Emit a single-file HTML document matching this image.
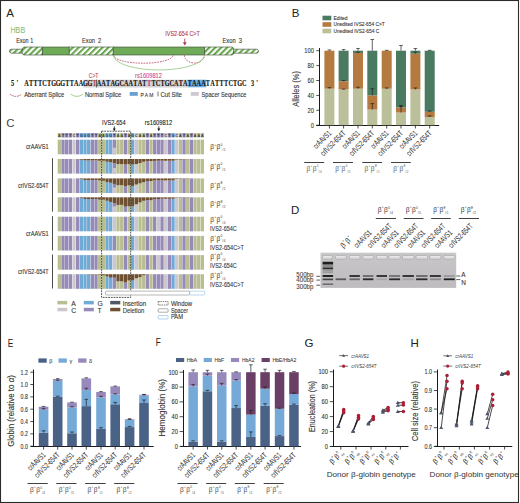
<!DOCTYPE html>
<html><head><meta charset="utf-8"><style>
html,body{margin:0;padding:0;background:#fff;}
body{width:520px;height:503px;overflow:hidden;}
svg{display:block;font-family:"Liberation Sans", sans-serif;}
</style></head><body>
<svg xmlns="http://www.w3.org/2000/svg" width="520" height="503" viewBox="0 0 520 503">
<rect x="0" y="0" width="520" height="503" fill="#fff"/>
<text x="6.3" y="16.7" font-size="11.5" fill="#222">A</text>
<text x="10.4" y="32.9" font-size="8.4" fill="#8cc07a" stroke="#8cc07a" stroke-width="0.1" textLength="14.8" lengthAdjust="spacingAndGlyphs">HBB</text>
<text x="16.2" y="42.9" font-size="6.6" fill="#333" stroke="#333" stroke-width="0.1" textLength="17" lengthAdjust="spacingAndGlyphs">Exon 1</text>
<text x="82" y="43" font-size="6.6" fill="#333" stroke="#333" stroke-width="0.1" textLength="19.3" lengthAdjust="spacingAndGlyphs">Exon&#160;&#160;2</text>
<text x="222.5" y="43.4" font-size="6.6" fill="#333" stroke="#333" stroke-width="0.1" textLength="19.6" lengthAdjust="spacingAndGlyphs">Exon&#160;&#160;3</text>
<text x="165.3" y="35.6" font-size="7" fill="#b0304a" stroke="#b0304a" stroke-width="0.1" textLength="34.5" lengthAdjust="spacingAndGlyphs">IVS2-654 C&gt;T</text>
<line x1="184.8" y1="38.6" x2="184.8" y2="43.5" stroke="#a83850" stroke-width="0.9"/>
<path d="M182.9,42.3 L184.8,45.4 L186.7,42.3 Z" stroke="none" stroke-width="1" fill="#a83850"/>
<defs><pattern id="hatch" patternUnits="userSpaceOnUse" width="4.2" height="4.2" patternTransform="rotate(45)"><rect x="0" y="0" width="4.2" height="4.2" fill="#fff"/><rect x="0" y="0" width="2.1" height="4.2" fill="#6aa84f"/></pattern></defs>
<path d="M11.5,49.2 L22.5,49.2 L22.5,53.2 L11.5,53.2 A2,2 0 0 1 11.5,49.2 Z" stroke="#3a4a34" stroke-width="0.6" fill="url(#hatch)"/>
<path d="M24,47 L42.4,47 L42.4,55 L24,55 A2,4 0 0 1 24,47 Z" stroke="#3a4a34" stroke-width="0.6" fill="url(#hatch)"/>
<rect x="42.4" y="47" width="26.8" height="8" fill="#6eaa58" stroke="#3a4a34" stroke-width="0.6"/>
<rect x="69.2" y="47" width="44" height="8" fill="url(#hatch)" stroke="#3a4a34" stroke-width="0.6"/>
<rect x="113.2" y="47" width="91.4" height="8" fill="#6eaa58" stroke="#3a4a34" stroke-width="0.6"/>
<path d="M204.6,47 L232,47 A2,4 0 0 1 232,55 L204.6,55 Z" stroke="#3a4a34" stroke-width="0.6" fill="url(#hatch)"/>
<path d="M233.5,49.2 L256.5,49.2 A2,2 0 0 1 256.5,53.2 L233.5,53.2 Z" stroke="#3a4a34" stroke-width="0.6" fill="url(#hatch)"/>
<path d="M113.6,55.2 A29.7,8 0 0 0 173.1,55.2" stroke="#b52e4c" stroke-width="0.75" fill="none" stroke-dasharray="1.7,1.0"/>
<path d="M184.4,55.2 A10,7.8 0 0 0 204.4,55.2" stroke="#b52e4c" stroke-width="0.75" fill="none" stroke-dasharray="1.7,1.0"/>
<path d="M113.6,55.2 A45.4,14.8 0 0 0 204.4,55.2" stroke="#8cc07a" stroke-width="0.75" fill="none"/>
<text x="88.7" y="78.4" font-size="6.8" fill="#b83a52" stroke="#b83a52" stroke-width="0.1" textLength="9.8" lengthAdjust="spacingAndGlyphs">C&gt;T</text>
<text x="135" y="78.4" font-size="6.8" fill="#cc4a90" stroke="#cc4a90" stroke-width="0.1" textLength="26.9" lengthAdjust="spacingAndGlyphs">rs1609812</text>
<rect x="83.18" y="79.7" width="104.35" height="7.8" fill="#d4d2d4"/>
<rect x="187.53" y="79.7" width="18.75" height="7.6" fill="#6aaee0"/>
<g transform="scale(0.82,1)">
<text x="13.54" y="86.2" font-size="7.6" font-weight="bold" fill="#111" stroke="#111" stroke-width="0.12" font-family='"Liberation Serif", serif'>5</text>
<text x="20" y="86.2" font-size="7.6" font-weight="bold" fill="#111" stroke="#111" stroke-width="0.12" font-family='"Liberation Serif", serif'>'</text>
<text x="306.1" y="86.2" font-size="7.6" font-weight="bold" fill="#111" stroke="#111" stroke-width="0.12" font-family='"Liberation Serif", serif'>3</text>
<text x="312.56" y="86.2" font-size="7.6" font-weight="bold" fill="#111" stroke="#111" stroke-width="0.12" font-family='"Liberation Serif", serif'>'</text>
<text y="86.2" font-size="7.6" font-weight="bold" font-family='"Liberation Serif", serif' text-anchor="middle" stroke="#111" stroke-width="0.12"><tspan x="32.28" fill="#111">A</tspan><tspan x="37.81" fill="#111">T</tspan><tspan x="43.34" fill="#111">T</tspan><tspan x="48.88" fill="#111">T</tspan><tspan x="54.41" fill="#111">C</tspan><tspan x="59.94" fill="#111">T</tspan><tspan x="65.48" fill="#111">G</tspan><tspan x="71.01" fill="#111">G</tspan><tspan x="76.54" fill="#111">G</tspan><tspan x="82.08" fill="#111">T</tspan><tspan x="87.61" fill="#111">T</tspan><tspan x="93.14" fill="#111">A</tspan><tspan x="98.67" fill="#111">A</tspan><tspan x="104.21" fill="#111">G</tspan><tspan x="109.74" fill="#111">G</tspan><tspan x="115.27" fill="#c2445e">T</tspan><tspan x="120.81" fill="#111">A</tspan><tspan x="126.34" fill="#111">A</tspan><tspan x="131.87" fill="#111">T</tspan><tspan x="137.4" fill="#111">A</tspan><tspan x="142.94" fill="#111">G</tspan><tspan x="148.47" fill="#111">C</tspan><tspan x="154" fill="#111">A</tspan><tspan x="159.54" fill="#111">A</tspan><tspan x="165.07" fill="#111">T</tspan><tspan x="170.6" fill="#111">A</tspan><tspan x="176.13" fill="#111">T</tspan><tspan x="181.67" fill="#d0458c">T</tspan><tspan x="187.2" fill="#111">T</tspan><tspan x="192.73" fill="#111">C</tspan><tspan x="198.27" fill="#111">T</tspan><tspan x="203.8" fill="#111">G</tspan><tspan x="209.33" fill="#111">C</tspan><tspan x="214.87" fill="#111">A</tspan><tspan x="220.4" fill="#111">T</tspan><tspan x="225.93" fill="#111">A</tspan><tspan x="231.46" fill="#111">T</tspan><tspan x="237" fill="#111">A</tspan><tspan x="242.53" fill="#111">A</tspan><tspan x="248.06" fill="#111">A</tspan><tspan x="253.6" fill="#111">T</tspan><tspan x="259.13" fill="#111">A</tspan><tspan x="264.66" fill="#111">T</tspan><tspan x="270.19" fill="#111">T</tspan><tspan x="275.73" fill="#111">T</tspan><tspan x="281.26" fill="#111">C</tspan><tspan x="286.79" fill="#111">T</tspan><tspan x="292.33" fill="#111">G</tspan><tspan x="297.86" fill="#111">C</tspan></text>
</g>
<line x1="96.49" y1="79.7" x2="96.49" y2="87.5" stroke="#333" stroke-width="0.7"/>
<path d="M10.2,94.2 Q15.8,98.6 21.5,94.2" stroke="#b52e4c" stroke-width="0.9" fill="none" stroke-dasharray="1.5,1"/>
<text x="24.2" y="96.5" font-size="6.6" fill="#333" stroke="#333" stroke-width="0.1" textLength="40.1" lengthAdjust="spacingAndGlyphs">Aberrant Splice</text>
<path d="M70.8,94.2 Q76.8,98.6 82.9,94.2" stroke="#8cc07a" stroke-width="0.8" fill="none"/>
<text x="84.9" y="96.5" font-size="6.6" fill="#333" stroke="#333" stroke-width="0.1" textLength="36.3" lengthAdjust="spacingAndGlyphs">Normal Splice</text>
<rect x="129.7" y="92" width="8.1" height="3.8" fill="#6a9fd3"/>
<text x="140.5" y="96.5" font-size="6.2" fill="#333" stroke="#333" stroke-width="0.1" textLength="12.9" lengthAdjust="spacingAndGlyphs">P A M</text>
<line x1="158" y1="91.6" x2="158" y2="96.4" stroke="#333" stroke-width="0.7"/>
<text x="160.4" y="96.5" font-size="6.6" fill="#333" stroke="#333" stroke-width="0.1" textLength="21.6" lengthAdjust="spacingAndGlyphs">Cut Site</text>
<rect x="190.8" y="92" width="8" height="3.8" fill="#cdc8cc"/>
<text x="201.5" y="96.5" font-size="6.6" fill="#333" stroke="#333" stroke-width="0.1" textLength="45" lengthAdjust="spacingAndGlyphs">Spacer Sequence</text>
<text x="291.8" y="16.7" font-size="11.5" fill="#222">B</text>
<rect x="322.5" y="15.7" width="8.8" height="4.6" fill="#4a7a60"/>
<text x="333.5" y="19.8" font-size="5" fill="#333" stroke="#333" stroke-width="0.1" textLength="14" lengthAdjust="spacingAndGlyphs">Edited</text>
<rect x="322.5" y="22.2" width="8.8" height="4.6" fill="#b47a40"/>
<text x="333.5" y="26.3" font-size="5" fill="#333" stroke="#333" stroke-width="0.1" textLength="51.2" lengthAdjust="spacingAndGlyphs">Unedited IVS2-654 C&gt;T</text>
<rect x="322.5" y="28.7" width="8.8" height="4.6" fill="#bcc09a"/>
<text x="333.5" y="32.8" font-size="5" fill="#333" stroke="#333" stroke-width="0.1" textLength="45.8" lengthAdjust="spacingAndGlyphs">Unedited IVS2-654 C</text>
<line x1="319.5" y1="48" x2="319.5" y2="126" stroke="#1a1a1a" stroke-width="1"/>
<line x1="316.2" y1="125.5" x2="439.2" y2="125.5" stroke="#1a1a1a" stroke-width="1"/>
<line x1="316.3" y1="125.2" x2="319.5" y2="125.2" stroke="#222" stroke-width="0.8"/>
<text x="313.9" y="127.6" font-size="7" fill="#333" stroke="#333" stroke-width="0.1" text-anchor="end" textLength="3.2" lengthAdjust="spacingAndGlyphs">0</text>
<line x1="316.3" y1="110.3" x2="319.5" y2="110.3" stroke="#222" stroke-width="0.8"/>
<text x="313.9" y="112.7" font-size="7" fill="#333" stroke="#333" stroke-width="0.1" text-anchor="end" textLength="6.4" lengthAdjust="spacingAndGlyphs">20</text>
<line x1="316.3" y1="95.4" x2="319.5" y2="95.4" stroke="#222" stroke-width="0.8"/>
<text x="313.9" y="97.8" font-size="7" fill="#333" stroke="#333" stroke-width="0.1" text-anchor="end" textLength="6.4" lengthAdjust="spacingAndGlyphs">40</text>
<line x1="316.3" y1="80.5" x2="319.5" y2="80.5" stroke="#222" stroke-width="0.8"/>
<text x="313.9" y="82.9" font-size="7" fill="#333" stroke="#333" stroke-width="0.1" text-anchor="end" textLength="6.4" lengthAdjust="spacingAndGlyphs">60</text>
<line x1="316.3" y1="65.6" x2="319.5" y2="65.6" stroke="#222" stroke-width="0.8"/>
<text x="313.9" y="68" font-size="7" fill="#333" stroke="#333" stroke-width="0.1" text-anchor="end" textLength="6.4" lengthAdjust="spacingAndGlyphs">80</text>
<line x1="316.3" y1="50.7" x2="319.5" y2="50.7" stroke="#222" stroke-width="0.8"/>
<text x="313.9" y="53.1" font-size="7" fill="#333" stroke="#333" stroke-width="0.1" text-anchor="end" textLength="9.6" lengthAdjust="spacingAndGlyphs">100</text>
<text x="298.6" y="88.9" font-size="8.2" fill="#333" stroke="#333" stroke-width="0.1" text-anchor="middle" textLength="35.7" lengthAdjust="spacingAndGlyphs" transform="rotate(-90 298.6 88.9)">Alleles (%)</text>
<rect x="324.4" y="88.69" width="10" height="36.51" fill="#bcc09a"/>
<rect x="324.4" y="50.7" width="10" height="37.99" fill="#b47a40"/>
<line x1="329.4" y1="88.69" x2="329.4" y2="87.58" stroke="#222" stroke-width="0.7"/>
<line x1="327.6" y1="87.58" x2="331.2" y2="87.58" stroke="#222" stroke-width="0.7"/>
<line x1="329.4" y1="50.7" x2="329.4" y2="49.95" stroke="#222" stroke-width="0.7"/>
<line x1="327.6" y1="49.95" x2="331.2" y2="49.95" stroke="#222" stroke-width="0.7"/>
<line x1="329.4" y1="125.2" x2="329.4" y2="128.5" stroke="#222" stroke-width="0.8"/>
<rect x="338.6" y="89.44" width="10" height="35.76" fill="#bcc09a"/>
<rect x="338.6" y="81.25" width="10" height="8.19" fill="#b47a40"/>
<rect x="338.6" y="50.7" width="10" height="30.55" fill="#4a7a60"/>
<line x1="343.6" y1="89.44" x2="343.6" y2="89.07" stroke="#222" stroke-width="0.7"/>
<line x1="341.8" y1="89.07" x2="345.4" y2="89.07" stroke="#222" stroke-width="0.7"/>
<line x1="343.6" y1="81.25" x2="343.6" y2="80.5" stroke="#222" stroke-width="0.7"/>
<line x1="341.8" y1="80.5" x2="345.4" y2="80.5" stroke="#222" stroke-width="0.7"/>
<line x1="343.6" y1="50.7" x2="343.6" y2="49.58" stroke="#222" stroke-width="0.7"/>
<line x1="341.8" y1="49.58" x2="345.4" y2="49.58" stroke="#222" stroke-width="0.7"/>
<line x1="343.6" y1="125.2" x2="343.6" y2="128.5" stroke="#222" stroke-width="0.8"/>
<rect x="353" y="88.69" width="10" height="36.51" fill="#bcc09a"/>
<rect x="353" y="52.94" width="10" height="35.76" fill="#b47a40"/>
<rect x="353" y="50.7" width="10" height="2.23" fill="#4a7a60"/>
<line x1="358" y1="88.69" x2="358" y2="87.21" stroke="#222" stroke-width="0.7"/>
<line x1="356.2" y1="87.21" x2="359.8" y2="87.21" stroke="#222" stroke-width="0.7"/>
<line x1="358" y1="52.94" x2="358" y2="52.19" stroke="#222" stroke-width="0.7"/>
<line x1="356.2" y1="52.19" x2="359.8" y2="52.19" stroke="#222" stroke-width="0.7"/>
<line x1="358" y1="50.7" x2="358" y2="48.47" stroke="#222" stroke-width="0.7"/>
<line x1="356.2" y1="48.47" x2="359.8" y2="48.47" stroke="#222" stroke-width="0.7"/>
<line x1="358" y1="125.2" x2="358" y2="128.5" stroke="#222" stroke-width="0.8"/>
<rect x="367.3" y="109.56" width="10" height="15.64" fill="#bcc09a"/>
<rect x="367.3" y="95.4" width="10" height="14.16" fill="#b47a40"/>
<rect x="367.3" y="50.7" width="10" height="44.7" fill="#4a7a60"/>
<line x1="372.3" y1="109.56" x2="372.3" y2="103.59" stroke="#222" stroke-width="0.7"/>
<line x1="370.5" y1="103.59" x2="374.1" y2="103.59" stroke="#222" stroke-width="0.7"/>
<line x1="372.3" y1="95.4" x2="372.3" y2="88.69" stroke="#222" stroke-width="0.7"/>
<line x1="370.5" y1="88.69" x2="374.1" y2="88.69" stroke="#222" stroke-width="0.7"/>
<line x1="372.3" y1="50.7" x2="372.3" y2="39.53" stroke="#222" stroke-width="0.7"/>
<line x1="370.5" y1="39.53" x2="374.1" y2="39.53" stroke="#222" stroke-width="0.7"/>
<line x1="372.3" y1="125.2" x2="372.3" y2="128.5" stroke="#222" stroke-width="0.8"/>
<rect x="381.7" y="88.69" width="10" height="36.51" fill="#bcc09a"/>
<rect x="381.7" y="50.7" width="10" height="37.99" fill="#b47a40"/>
<line x1="386.7" y1="88.69" x2="386.7" y2="87.95" stroke="#222" stroke-width="0.7"/>
<line x1="384.9" y1="87.95" x2="388.5" y2="87.95" stroke="#222" stroke-width="0.7"/>
<line x1="386.7" y1="50.7" x2="386.7" y2="50.33" stroke="#222" stroke-width="0.7"/>
<line x1="384.9" y1="50.33" x2="388.5" y2="50.33" stroke="#222" stroke-width="0.7"/>
<line x1="386.7" y1="125.2" x2="386.7" y2="128.5" stroke="#222" stroke-width="0.8"/>
<rect x="396" y="112.53" width="10" height="12.67" fill="#bcc09a"/>
<rect x="396" y="107.32" width="10" height="5.21" fill="#b47a40"/>
<rect x="396" y="50.7" width="10" height="56.62" fill="#4a7a60"/>
<line x1="401" y1="112.53" x2="401" y2="106.58" stroke="#222" stroke-width="0.7"/>
<line x1="399.2" y1="106.58" x2="402.8" y2="106.58" stroke="#222" stroke-width="0.7"/>
<line x1="401" y1="107.32" x2="401" y2="105.46" stroke="#222" stroke-width="0.7"/>
<line x1="399.2" y1="105.46" x2="402.8" y2="105.46" stroke="#222" stroke-width="0.7"/>
<line x1="401" y1="50.7" x2="401" y2="45.48" stroke="#222" stroke-width="0.7"/>
<line x1="399.2" y1="45.48" x2="402.8" y2="45.48" stroke="#222" stroke-width="0.7"/>
<line x1="401" y1="125.2" x2="401" y2="128.5" stroke="#222" stroke-width="0.8"/>
<rect x="410.4" y="89.44" width="10" height="35.76" fill="#bcc09a"/>
<rect x="410.4" y="53.68" width="10" height="35.76" fill="#b47a40"/>
<rect x="410.4" y="50.7" width="10" height="2.98" fill="#4a7a60"/>
<line x1="415.4" y1="89.44" x2="415.4" y2="87.95" stroke="#222" stroke-width="0.7"/>
<line x1="413.6" y1="87.95" x2="417.2" y2="87.95" stroke="#222" stroke-width="0.7"/>
<line x1="415.4" y1="53.68" x2="415.4" y2="52.19" stroke="#222" stroke-width="0.7"/>
<line x1="413.6" y1="52.19" x2="417.2" y2="52.19" stroke="#222" stroke-width="0.7"/>
<line x1="415.4" y1="50.7" x2="415.4" y2="48.47" stroke="#222" stroke-width="0.7"/>
<line x1="413.6" y1="48.47" x2="417.2" y2="48.47" stroke="#222" stroke-width="0.7"/>
<line x1="415.4" y1="125.2" x2="415.4" y2="128.5" stroke="#222" stroke-width="0.8"/>
<rect x="424.7" y="117" width="10" height="8.2" fill="#bcc09a"/>
<rect x="424.7" y="111.79" width="10" height="5.21" fill="#b47a40"/>
<rect x="424.7" y="50.7" width="10" height="61.09" fill="#4a7a60"/>
<line x1="429.7" y1="117" x2="429.7" y2="115.89" stroke="#222" stroke-width="0.7"/>
<line x1="427.9" y1="115.89" x2="431.5" y2="115.89" stroke="#222" stroke-width="0.7"/>
<line x1="429.7" y1="111.79" x2="429.7" y2="111.05" stroke="#222" stroke-width="0.7"/>
<line x1="427.9" y1="111.05" x2="431.5" y2="111.05" stroke="#222" stroke-width="0.7"/>
<line x1="429.7" y1="50.7" x2="429.7" y2="50.33" stroke="#222" stroke-width="0.7"/>
<line x1="427.9" y1="50.33" x2="431.5" y2="50.33" stroke="#222" stroke-width="0.7"/>
<line x1="429.7" y1="125.2" x2="429.7" y2="128.5" stroke="#222" stroke-width="0.8"/>
<text x="331.9" y="133.8" font-size="8" fill="#333" stroke="#333" stroke-width="0.05" text-anchor="end" textLength="22" lengthAdjust="spacingAndGlyphs" transform="rotate(-45 331.9 133.8)">crAAVS1</text>
<text x="346.1" y="133.8" font-size="8" fill="#333" stroke="#333" stroke-width="0.05" text-anchor="end" textLength="32" lengthAdjust="spacingAndGlyphs" transform="rotate(-45 346.1 133.8)">crIVS2-654T</text>
<text x="360.5" y="133.8" font-size="8" fill="#333" stroke="#333" stroke-width="0.05" text-anchor="end" textLength="22" lengthAdjust="spacingAndGlyphs" transform="rotate(-45 360.5 133.8)">crAAVS1</text>
<text x="374.8" y="133.8" font-size="8" fill="#333" stroke="#333" stroke-width="0.05" text-anchor="end" textLength="32" lengthAdjust="spacingAndGlyphs" transform="rotate(-45 374.8 133.8)">crIVS2-654T</text>
<text x="389.2" y="133.8" font-size="8" fill="#333" stroke="#333" stroke-width="0.05" text-anchor="end" textLength="22" lengthAdjust="spacingAndGlyphs" transform="rotate(-45 389.2 133.8)">crAAVS1</text>
<text x="403.5" y="133.8" font-size="8" fill="#333" stroke="#333" stroke-width="0.05" text-anchor="end" textLength="32" lengthAdjust="spacingAndGlyphs" transform="rotate(-45 403.5 133.8)">crIVS2-654T</text>
<text x="417.9" y="133.8" font-size="8" fill="#333" stroke="#333" stroke-width="0.05" text-anchor="end" textLength="22" lengthAdjust="spacingAndGlyphs" transform="rotate(-45 417.9 133.8)">crAAVS1</text>
<text x="432.2" y="133.8" font-size="8" fill="#333" stroke="#333" stroke-width="0.05" text-anchor="end" textLength="32" lengthAdjust="spacingAndGlyphs" transform="rotate(-45 432.2 133.8)">crIVS2-654T</text>
<line x1="304.2" y1="162.5" x2="324.2" y2="162.5" stroke="#2a2a2a" stroke-width="0.9"/>
<line x1="333" y1="162.5" x2="353" y2="162.5" stroke="#2a2a2a" stroke-width="0.9"/>
<line x1="362.3" y1="162.5" x2="382" y2="162.5" stroke="#2a2a2a" stroke-width="0.9"/>
<line x1="391" y1="162.5" x2="410.8" y2="162.5" stroke="#2a2a2a" stroke-width="0.9"/>
<g transform="translate(306.5 170.6)"><text x="0" y="0" font-size="6.6" fill="#666">&#946;</text><text x="3.96" y="-3.83" font-size="3.3" fill="#666">+</text><text x="6.27" y="0" font-size="6.6" fill="#666">&#946;</text><text x="10.3" y="-3.63" font-size="3.3" fill="#666">0</text><text x="11.75" y="1.98" font-size="3.04" fill="#666">#4</text></g>
<g transform="translate(335.3 170.6)"><text x="0" y="0" font-size="6.6" fill="#666">&#946;</text><text x="3.96" y="-3.83" font-size="3.3" fill="#666">+</text><text x="6.27" y="0" font-size="6.6" fill="#666">&#946;</text><text x="10.3" y="-3.63" font-size="3.3" fill="#666">0</text><text x="11.75" y="1.98" font-size="3.04" fill="#666">#5</text></g>
<g transform="translate(364.6 170.6)"><text x="0" y="0" font-size="6.6" fill="#666">&#946;</text><text x="3.96" y="-3.83" font-size="3.3" fill="#666">+</text><text x="6.27" y="0" font-size="6.6" fill="#666">&#946;</text><text x="10.3" y="-3.63" font-size="3.3" fill="#666">E</text><text x="11.75" y="1.98" font-size="3.04" fill="#666">#1</text></g>
<g transform="translate(393.3 170.6)"><text x="0" y="0" font-size="6.6" fill="#666">&#946;</text><text x="3.96" y="-3.83" font-size="3.3" fill="#666">+</text><text x="6.27" y="0" font-size="6.6" fill="#666">&#946;</text><text x="10.3" y="-3.63" font-size="3.3" fill="#666">E</text><text x="11.75" y="1.98" font-size="3.04" fill="#666">#2</text></g>
<text x="6.3" y="127" font-size="11.5" fill="#444">C</text>
<rect x="57.7" y="133" width="3.3" height="4.5" fill="#b9be92"/>
<rect x="61.37" y="133" width="3.3" height="4.5" fill="#968ab9"/>
<rect x="65.03" y="133" width="3.3" height="4.5" fill="#968ab9"/>
<rect x="68.7" y="133" width="3.3" height="4.5" fill="#968ab9"/>
<rect x="72.37" y="133" width="3.3" height="4.5" fill="#cdc7cd"/>
<rect x="76.03" y="133" width="3.3" height="4.5" fill="#968ab9"/>
<rect x="79.7" y="133" width="3.3" height="4.5" fill="#72aad6"/>
<rect x="83.37" y="133" width="3.3" height="4.5" fill="#72aad6"/>
<rect x="87.04" y="133" width="3.3" height="4.5" fill="#72aad6"/>
<rect x="90.7" y="133" width="3.3" height="4.5" fill="#968ab9"/>
<rect x="94.37" y="133" width="3.3" height="4.5" fill="#968ab9"/>
<rect x="98.04" y="133" width="3.3" height="4.5" fill="#b9be92"/>
<rect x="101.7" y="133" width="3.3" height="4.5" fill="#b9be92"/>
<rect x="105.37" y="133" width="3.3" height="4.5" fill="#72aad6"/>
<rect x="109.04" y="133" width="3.3" height="4.5" fill="#72aad6"/>
<rect x="112.7" y="133" width="3.3" height="4.5" fill="#968ab9"/>
<rect x="116.37" y="133" width="3.3" height="4.5" fill="#b9be92"/>
<rect x="120.04" y="133" width="3.3" height="4.5" fill="#b9be92"/>
<rect x="123.71" y="133" width="3.3" height="4.5" fill="#968ab9"/>
<rect x="127.37" y="133" width="3.3" height="4.5" fill="#b9be92"/>
<rect x="131.04" y="133" width="3.3" height="4.5" fill="#72aad6"/>
<rect x="134.71" y="133" width="3.3" height="4.5" fill="#cdc7cd"/>
<rect x="138.37" y="133" width="3.3" height="4.5" fill="#b9be92"/>
<rect x="142.04" y="133" width="3.3" height="4.5" fill="#b9be92"/>
<rect x="145.71" y="133" width="3.3" height="4.5" fill="#968ab9"/>
<rect x="149.38" y="133" width="3.3" height="4.5" fill="#b9be92"/>
<rect x="153.04" y="133" width="3.3" height="4.5" fill="#968ab9"/>
<rect x="156.71" y="133" width="3.3" height="4.5" fill="#968ab9"/>
<rect x="160.38" y="133" width="3.3" height="4.5" fill="#968ab9"/>
<rect x="164.04" y="133" width="3.3" height="4.5" fill="#cdc7cd"/>
<rect x="167.71" y="133" width="3.3" height="4.5" fill="#968ab9"/>
<rect x="171.38" y="133" width="3.3" height="4.5" fill="#72aad6"/>
<rect x="175.04" y="133" width="3.3" height="4.5" fill="#cdc7cd"/>
<rect x="178.71" y="133" width="3.3" height="4.5" fill="#b9be92"/>
<rect x="182.38" y="133" width="3.3" height="4.5" fill="#968ab9"/>
<rect x="186.05" y="133" width="3.3" height="4.5" fill="#b9be92"/>
<rect x="189.71" y="133" width="3.3" height="4.5" fill="#968ab9"/>
<rect x="193.38" y="133" width="3.3" height="4.5" fill="#b9be92"/>
<rect x="197.05" y="133" width="3.3" height="4.5" fill="#b9be92"/>
<rect x="200.71" y="133" width="3.3" height="4.5" fill="#b9be92"/>
<text y="136.6" font-size="3.6" fill="#333" text-anchor="middle" font-weight="bold"><tspan x="59.35">A</tspan><tspan x="63.02">T</tspan><tspan x="66.68">T</tspan><tspan x="70.35">T</tspan><tspan x="74.02">C</tspan><tspan x="77.69">T</tspan><tspan x="81.35">G</tspan><tspan x="85.02">G</tspan><tspan x="88.69">G</tspan><tspan x="92.35">T</tspan><tspan x="96.02">T</tspan><tspan x="99.69">A</tspan><tspan x="103.35">A</tspan><tspan x="107.02">G</tspan><tspan x="110.69">G</tspan><tspan x="114.36">T</tspan><tspan x="118.02">A</tspan><tspan x="121.69">A</tspan><tspan x="125.36">T</tspan><tspan x="129.02">A</tspan><tspan x="132.69">G</tspan><tspan x="136.36">C</tspan><tspan x="140.02">A</tspan><tspan x="143.69">A</tspan><tspan x="147.36">T</tspan><tspan x="151.03">A</tspan><tspan x="154.69">T</tspan><tspan x="158.36">T</tspan><tspan x="162.03">T</tspan><tspan x="165.69">C</tspan><tspan x="169.36">T</tspan><tspan x="173.03">G</tspan><tspan x="176.69">C</tspan><tspan x="180.36">A</tspan><tspan x="184.03">T</tspan><tspan x="187.7">A</tspan><tspan x="191.36">T</tspan><tspan x="195.03">A</tspan><tspan x="198.7">A</tspan><tspan x="202.36">A</tspan></text>
<rect x="57.7" y="139.7" width="3.3" height="14.6" fill="#b9be92"/>
<rect x="61.37" y="139.7" width="3.3" height="14.6" fill="#968ab9"/>
<rect x="65.03" y="139.7" width="3.3" height="14.6" fill="#968ab9"/>
<rect x="68.7" y="139.7" width="3.3" height="14.6" fill="#968ab9"/>
<rect x="72.37" y="139.7" width="3.3" height="14.6" fill="#cdc7cd"/>
<rect x="76.03" y="139.7" width="3.3" height="14.6" fill="#968ab9"/>
<rect x="79.7" y="139.7" width="3.3" height="14.6" fill="#72aad6"/>
<rect x="83.37" y="139.7" width="3.3" height="14.6" fill="#72aad6"/>
<rect x="87.04" y="139.7" width="3.3" height="14.6" fill="#72aad6"/>
<rect x="90.7" y="139.7" width="3.3" height="14.6" fill="#968ab9"/>
<rect x="94.37" y="139.7" width="3.3" height="14.6" fill="#968ab9"/>
<rect x="98.04" y="139.7" width="3.3" height="14.6" fill="#b9be92"/>
<rect x="101.7" y="139.7" width="3.3" height="14.6" fill="#b9be92"/>
<rect x="105.37" y="139.7" width="3.3" height="14.6" fill="#72aad6"/>
<rect x="109.04" y="139.7" width="3.3" height="14.6" fill="#72aad6"/>
<rect x="112.7" y="139.7" width="3.3" height="14.6" fill="#968ab9"/>
<rect x="112.7" y="147.73" width="3.3" height="6.57" fill="#cdc7cd"/>
<rect x="116.37" y="139.7" width="3.3" height="14.6" fill="#b9be92"/>
<rect x="120.04" y="139.7" width="3.3" height="14.6" fill="#b9be92"/>
<rect x="123.71" y="139.7" width="3.3" height="14.6" fill="#968ab9"/>
<rect x="127.37" y="139.7" width="3.3" height="14.6" fill="#b9be92"/>
<rect x="131.04" y="139.7" width="3.3" height="14.6" fill="#72aad6"/>
<rect x="134.71" y="139.7" width="3.3" height="14.6" fill="#cdc7cd"/>
<rect x="138.37" y="139.7" width="3.3" height="14.6" fill="#b9be92"/>
<rect x="142.04" y="139.7" width="3.3" height="14.6" fill="#b9be92"/>
<rect x="145.71" y="139.7" width="3.3" height="14.6" fill="#968ab9"/>
<rect x="149.38" y="139.7" width="3.3" height="14.6" fill="#b9be92"/>
<rect x="153.04" y="139.7" width="3.3" height="14.6" fill="#968ab9"/>
<rect x="156.71" y="139.7" width="3.3" height="14.6" fill="#968ab9"/>
<rect x="160.38" y="139.7" width="3.3" height="14.6" fill="#968ab9"/>
<rect x="164.04" y="139.7" width="3.3" height="14.6" fill="#cdc7cd"/>
<rect x="167.71" y="139.7" width="3.3" height="14.6" fill="#968ab9"/>
<rect x="171.38" y="139.7" width="3.3" height="14.6" fill="#72aad6"/>
<rect x="175.04" y="139.7" width="3.3" height="14.6" fill="#cdc7cd"/>
<rect x="178.71" y="139.7" width="3.3" height="14.6" fill="#b9be92"/>
<rect x="182.38" y="139.7" width="3.3" height="14.6" fill="#968ab9"/>
<rect x="186.05" y="139.7" width="3.3" height="14.6" fill="#b9be92"/>
<rect x="189.71" y="139.7" width="3.3" height="14.6" fill="#968ab9"/>
<rect x="193.38" y="139.7" width="3.3" height="14.6" fill="#b9be92"/>
<rect x="197.05" y="139.7" width="3.3" height="14.6" fill="#b9be92"/>
<rect x="200.71" y="139.7" width="3.3" height="14.6" fill="#b9be92"/>
<rect x="57.7" y="159" width="3.3" height="14.6" fill="#b9be92"/>
<rect x="61.37" y="159" width="3.3" height="14.6" fill="#968ab9"/>
<rect x="65.03" y="159" width="3.3" height="14.6" fill="#968ab9"/>
<rect x="68.7" y="159" width="3.3" height="14.6" fill="#968ab9"/>
<rect x="72.37" y="159" width="3.3" height="14.6" fill="#cdc7cd"/>
<rect x="76.03" y="159.29" width="3.3" height="14.31" fill="#968ab9"/>
<rect x="76.03" y="159" width="3.3" height="0.29" fill="#6e5031"/>
<rect x="79.7" y="159.73" width="3.3" height="13.87" fill="#72aad6"/>
<rect x="79.7" y="159" width="3.3" height="0.73" fill="#6e5031"/>
<rect x="83.37" y="160.46" width="3.3" height="13.14" fill="#72aad6"/>
<rect x="83.37" y="159" width="3.3" height="1.46" fill="#6e5031"/>
<rect x="87.04" y="160.46" width="3.3" height="13.14" fill="#72aad6"/>
<rect x="87.04" y="159" width="3.3" height="1.46" fill="#6e5031"/>
<rect x="90.7" y="160.46" width="3.3" height="13.14" fill="#968ab9"/>
<rect x="90.7" y="159" width="3.3" height="1.46" fill="#6e5031"/>
<rect x="94.37" y="160.46" width="3.3" height="13.14" fill="#968ab9"/>
<rect x="94.37" y="159" width="3.3" height="1.46" fill="#6e5031"/>
<rect x="98.04" y="160.75" width="3.3" height="12.85" fill="#b9be92"/>
<rect x="98.04" y="159" width="3.3" height="1.75" fill="#6e5031"/>
<rect x="101.7" y="160.75" width="3.3" height="12.85" fill="#b9be92"/>
<rect x="101.7" y="159" width="3.3" height="1.75" fill="#6e5031"/>
<rect x="105.37" y="161.77" width="3.3" height="11.83" fill="#72aad6"/>
<rect x="105.37" y="159" width="3.3" height="2.77" fill="#6e5031"/>
<rect x="109.04" y="162.36" width="3.3" height="11.24" fill="#72aad6"/>
<rect x="109.04" y="159" width="3.3" height="3.36" fill="#6e5031"/>
<rect x="112.7" y="163.38" width="3.3" height="10.22" fill="#968ab9"/>
<rect x="112.7" y="168.05" width="3.3" height="5.55" fill="#cdc7cd"/>
<rect x="112.7" y="159" width="3.3" height="4.38" fill="#6e5031"/>
<rect x="116.37" y="164.11" width="3.3" height="9.49" fill="#b9be92"/>
<rect x="116.37" y="159" width="3.3" height="5.11" fill="#6e5031"/>
<rect x="120.04" y="164.11" width="3.3" height="9.49" fill="#b9be92"/>
<rect x="120.04" y="159" width="3.3" height="5.11" fill="#6e5031"/>
<rect x="123.71" y="164.55" width="3.3" height="9.05" fill="#968ab9"/>
<rect x="123.71" y="159" width="3.3" height="5.55" fill="#6e5031"/>
<rect x="127.37" y="164.11" width="3.3" height="9.49" fill="#b9be92"/>
<rect x="127.37" y="159" width="3.3" height="5.11" fill="#6e5031"/>
<rect x="131.04" y="164.55" width="3.3" height="9.05" fill="#72aad6"/>
<rect x="131.04" y="159" width="3.3" height="5.55" fill="#6e5031"/>
<rect x="134.71" y="164.11" width="3.3" height="9.49" fill="#cdc7cd"/>
<rect x="134.71" y="159" width="3.3" height="5.11" fill="#6e5031"/>
<rect x="138.37" y="163.09" width="3.3" height="10.51" fill="#b9be92"/>
<rect x="138.37" y="159" width="3.3" height="4.09" fill="#6e5031"/>
<rect x="142.04" y="161.77" width="3.3" height="11.83" fill="#b9be92"/>
<rect x="142.04" y="159" width="3.3" height="2.77" fill="#6e5031"/>
<rect x="145.71" y="161.19" width="3.3" height="12.41" fill="#968ab9"/>
<rect x="145.71" y="159" width="3.3" height="2.19" fill="#6e5031"/>
<rect x="149.38" y="161.19" width="3.3" height="12.41" fill="#b9be92"/>
<rect x="149.38" y="159" width="3.3" height="2.19" fill="#6e5031"/>
<rect x="153.04" y="160.9" width="3.3" height="12.7" fill="#968ab9"/>
<rect x="153.04" y="159" width="3.3" height="1.9" fill="#6e5031"/>
<rect x="156.71" y="160.75" width="3.3" height="12.85" fill="#968ab9"/>
<rect x="156.71" y="159" width="3.3" height="1.75" fill="#6e5031"/>
<rect x="160.38" y="160.75" width="3.3" height="12.85" fill="#968ab9"/>
<rect x="160.38" y="159" width="3.3" height="1.75" fill="#6e5031"/>
<rect x="164.04" y="160.75" width="3.3" height="12.85" fill="#cdc7cd"/>
<rect x="164.04" y="159" width="3.3" height="1.75" fill="#6e5031"/>
<rect x="167.71" y="160.75" width="3.3" height="12.85" fill="#968ab9"/>
<rect x="167.71" y="159" width="3.3" height="1.75" fill="#6e5031"/>
<rect x="171.38" y="160.75" width="3.3" height="12.85" fill="#72aad6"/>
<rect x="171.38" y="159" width="3.3" height="1.75" fill="#6e5031"/>
<rect x="175.04" y="159.58" width="3.3" height="14.02" fill="#cdc7cd"/>
<rect x="175.04" y="159" width="3.3" height="0.58" fill="#6e5031"/>
<rect x="178.71" y="159.58" width="3.3" height="14.02" fill="#b9be92"/>
<rect x="178.71" y="159" width="3.3" height="0.58" fill="#6e5031"/>
<rect x="182.38" y="159.58" width="3.3" height="14.02" fill="#968ab9"/>
<rect x="182.38" y="159" width="3.3" height="0.58" fill="#6e5031"/>
<rect x="186.05" y="159.29" width="3.3" height="14.31" fill="#b9be92"/>
<rect x="186.05" y="159" width="3.3" height="0.29" fill="#6e5031"/>
<rect x="189.71" y="159" width="3.3" height="14.6" fill="#968ab9"/>
<rect x="193.38" y="159" width="3.3" height="14.6" fill="#b9be92"/>
<rect x="197.05" y="159" width="3.3" height="14.6" fill="#b9be92"/>
<rect x="200.71" y="159" width="3.3" height="14.6" fill="#b9be92"/>
<rect x="57.7" y="178.4" width="3.3" height="14.6" fill="#b9be92"/>
<rect x="61.37" y="178.4" width="3.3" height="14.6" fill="#968ab9"/>
<rect x="65.03" y="178.4" width="3.3" height="14.6" fill="#968ab9"/>
<rect x="68.7" y="178.4" width="3.3" height="14.6" fill="#968ab9"/>
<rect x="72.37" y="178.4" width="3.3" height="14.6" fill="#cdc7cd"/>
<rect x="76.03" y="178.69" width="3.3" height="14.31" fill="#968ab9"/>
<rect x="76.03" y="178.4" width="3.3" height="0.29" fill="#6e5031"/>
<rect x="79.7" y="179.13" width="3.3" height="13.87" fill="#72aad6"/>
<rect x="79.7" y="178.4" width="3.3" height="0.73" fill="#6e5031"/>
<rect x="83.37" y="180.15" width="3.3" height="12.85" fill="#72aad6"/>
<rect x="83.37" y="178.4" width="3.3" height="1.75" fill="#6e5031"/>
<rect x="87.04" y="180.15" width="3.3" height="12.85" fill="#72aad6"/>
<rect x="87.04" y="178.4" width="3.3" height="1.75" fill="#6e5031"/>
<rect x="90.7" y="180.15" width="3.3" height="12.85" fill="#968ab9"/>
<rect x="90.7" y="178.4" width="3.3" height="1.75" fill="#6e5031"/>
<rect x="94.37" y="180.15" width="3.3" height="12.85" fill="#968ab9"/>
<rect x="94.37" y="178.4" width="3.3" height="1.75" fill="#6e5031"/>
<rect x="98.04" y="180.44" width="3.3" height="12.56" fill="#b9be92"/>
<rect x="98.04" y="178.4" width="3.3" height="2.04" fill="#6e5031"/>
<rect x="101.7" y="180.74" width="3.3" height="12.26" fill="#b9be92"/>
<rect x="101.7" y="178.4" width="3.3" height="2.34" fill="#6e5031"/>
<rect x="105.37" y="182.2" width="3.3" height="10.8" fill="#72aad6"/>
<rect x="105.37" y="178.4" width="3.3" height="3.8" fill="#6e5031"/>
<rect x="109.04" y="182.78" width="3.3" height="10.22" fill="#72aad6"/>
<rect x="109.04" y="178.4" width="3.3" height="4.38" fill="#6e5031"/>
<rect x="112.7" y="183.95" width="3.3" height="9.05" fill="#968ab9"/>
<rect x="112.7" y="187.45" width="3.3" height="5.55" fill="#cdc7cd"/>
<rect x="112.7" y="178.4" width="3.3" height="5.55" fill="#6e5031"/>
<rect x="116.37" y="185.12" width="3.3" height="7.88" fill="#b9be92"/>
<rect x="116.37" y="178.4" width="3.3" height="6.72" fill="#6e5031"/>
<rect x="120.04" y="185.12" width="3.3" height="7.88" fill="#b9be92"/>
<rect x="120.04" y="178.4" width="3.3" height="6.72" fill="#6e5031"/>
<rect x="123.71" y="185.99" width="3.3" height="7.01" fill="#968ab9"/>
<rect x="123.71" y="178.4" width="3.3" height="7.59" fill="#6e5031"/>
<rect x="127.37" y="185.41" width="3.3" height="7.59" fill="#b9be92"/>
<rect x="127.37" y="178.4" width="3.3" height="7.01" fill="#6e5031"/>
<rect x="131.04" y="185.99" width="3.3" height="7.01" fill="#72aad6"/>
<rect x="131.04" y="178.4" width="3.3" height="7.59" fill="#6e5031"/>
<rect x="134.71" y="184.53" width="3.3" height="8.47" fill="#cdc7cd"/>
<rect x="134.71" y="178.4" width="3.3" height="6.13" fill="#6e5031"/>
<rect x="138.37" y="183.36" width="3.3" height="9.64" fill="#b9be92"/>
<rect x="138.37" y="178.4" width="3.3" height="4.96" fill="#6e5031"/>
<rect x="142.04" y="182.2" width="3.3" height="10.8" fill="#b9be92"/>
<rect x="142.04" y="178.4" width="3.3" height="3.8" fill="#6e5031"/>
<rect x="145.71" y="181.03" width="3.3" height="11.97" fill="#968ab9"/>
<rect x="145.71" y="178.4" width="3.3" height="2.63" fill="#6e5031"/>
<rect x="149.38" y="181.03" width="3.3" height="11.97" fill="#b9be92"/>
<rect x="149.38" y="178.4" width="3.3" height="2.63" fill="#6e5031"/>
<rect x="153.04" y="180.44" width="3.3" height="12.56" fill="#968ab9"/>
<rect x="153.04" y="178.4" width="3.3" height="2.04" fill="#6e5031"/>
<rect x="156.71" y="180.44" width="3.3" height="12.56" fill="#968ab9"/>
<rect x="156.71" y="178.4" width="3.3" height="2.04" fill="#6e5031"/>
<rect x="160.38" y="180.44" width="3.3" height="12.56" fill="#968ab9"/>
<rect x="160.38" y="178.4" width="3.3" height="2.04" fill="#6e5031"/>
<rect x="164.04" y="180.44" width="3.3" height="12.56" fill="#cdc7cd"/>
<rect x="164.04" y="178.4" width="3.3" height="2.04" fill="#6e5031"/>
<rect x="167.71" y="180.44" width="3.3" height="12.56" fill="#968ab9"/>
<rect x="167.71" y="178.4" width="3.3" height="2.04" fill="#6e5031"/>
<rect x="171.38" y="180.44" width="3.3" height="12.56" fill="#72aad6"/>
<rect x="171.38" y="178.4" width="3.3" height="2.04" fill="#6e5031"/>
<rect x="175.04" y="178.98" width="3.3" height="14.02" fill="#cdc7cd"/>
<rect x="175.04" y="178.4" width="3.3" height="0.58" fill="#6e5031"/>
<rect x="178.71" y="178.84" width="3.3" height="14.16" fill="#b9be92"/>
<rect x="178.71" y="178.4" width="3.3" height="0.44" fill="#6e5031"/>
<rect x="182.38" y="178.84" width="3.3" height="14.16" fill="#968ab9"/>
<rect x="182.38" y="178.4" width="3.3" height="0.44" fill="#6e5031"/>
<rect x="186.05" y="178.84" width="3.3" height="14.16" fill="#b9be92"/>
<rect x="186.05" y="178.4" width="3.3" height="0.44" fill="#6e5031"/>
<rect x="189.71" y="178.4" width="3.3" height="14.6" fill="#968ab9"/>
<rect x="193.38" y="178.4" width="3.3" height="14.6" fill="#b9be92"/>
<rect x="197.05" y="178.4" width="3.3" height="14.6" fill="#b9be92"/>
<rect x="200.71" y="178.4" width="3.3" height="14.6" fill="#b9be92"/>
<rect x="57.7" y="197.3" width="3.3" height="14.6" fill="#b9be92"/>
<rect x="61.37" y="197.3" width="3.3" height="14.6" fill="#968ab9"/>
<rect x="65.03" y="197.3" width="3.3" height="14.6" fill="#968ab9"/>
<rect x="68.7" y="197.3" width="3.3" height="14.6" fill="#968ab9"/>
<rect x="72.37" y="197.3" width="3.3" height="14.6" fill="#cdc7cd"/>
<rect x="76.03" y="197.59" width="3.3" height="14.31" fill="#968ab9"/>
<rect x="76.03" y="197.3" width="3.3" height="0.29" fill="#6e5031"/>
<rect x="79.7" y="198.03" width="3.3" height="13.87" fill="#72aad6"/>
<rect x="79.7" y="197.3" width="3.3" height="0.73" fill="#6e5031"/>
<rect x="83.37" y="199.05" width="3.3" height="12.85" fill="#72aad6"/>
<rect x="83.37" y="197.3" width="3.3" height="1.75" fill="#6e5031"/>
<rect x="87.04" y="199.05" width="3.3" height="12.85" fill="#72aad6"/>
<rect x="87.04" y="197.3" width="3.3" height="1.75" fill="#6e5031"/>
<rect x="90.7" y="199.05" width="3.3" height="12.85" fill="#968ab9"/>
<rect x="90.7" y="197.3" width="3.3" height="1.75" fill="#6e5031"/>
<rect x="94.37" y="199.05" width="3.3" height="12.85" fill="#968ab9"/>
<rect x="94.37" y="197.3" width="3.3" height="1.75" fill="#6e5031"/>
<rect x="98.04" y="199.64" width="3.3" height="12.26" fill="#b9be92"/>
<rect x="98.04" y="197.3" width="3.3" height="2.34" fill="#6e5031"/>
<rect x="101.7" y="199.64" width="3.3" height="12.26" fill="#b9be92"/>
<rect x="101.7" y="197.3" width="3.3" height="2.34" fill="#6e5031"/>
<rect x="105.37" y="200.8" width="3.3" height="11.1" fill="#72aad6"/>
<rect x="105.37" y="197.3" width="3.3" height="3.5" fill="#6e5031"/>
<rect x="109.04" y="201.97" width="3.3" height="9.93" fill="#72aad6"/>
<rect x="109.04" y="197.3" width="3.3" height="4.67" fill="#6e5031"/>
<rect x="112.7" y="203.14" width="3.3" height="8.76" fill="#968ab9"/>
<rect x="112.7" y="206.35" width="3.3" height="5.55" fill="#cdc7cd"/>
<rect x="112.7" y="197.3" width="3.3" height="5.84" fill="#6e5031"/>
<rect x="116.37" y="204.89" width="3.3" height="7.01" fill="#b9be92"/>
<rect x="116.37" y="197.3" width="3.3" height="7.59" fill="#6e5031"/>
<rect x="120.04" y="204.89" width="3.3" height="7.01" fill="#b9be92"/>
<rect x="120.04" y="197.3" width="3.3" height="7.59" fill="#6e5031"/>
<rect x="123.71" y="206.64" width="3.3" height="5.26" fill="#968ab9"/>
<rect x="123.71" y="197.3" width="3.3" height="9.34" fill="#6e5031"/>
<rect x="127.37" y="206.35" width="3.3" height="5.55" fill="#b9be92"/>
<rect x="127.37" y="197.3" width="3.3" height="9.05" fill="#6e5031"/>
<rect x="131.04" y="206.35" width="3.3" height="5.55" fill="#72aad6"/>
<rect x="131.04" y="197.3" width="3.3" height="9.05" fill="#6e5031"/>
<rect x="134.71" y="204.31" width="3.3" height="7.59" fill="#cdc7cd"/>
<rect x="134.71" y="197.3" width="3.3" height="7.01" fill="#6e5031"/>
<rect x="138.37" y="202.41" width="3.3" height="9.49" fill="#b9be92"/>
<rect x="138.37" y="197.3" width="3.3" height="5.11" fill="#6e5031"/>
<rect x="142.04" y="200.8" width="3.3" height="11.1" fill="#b9be92"/>
<rect x="142.04" y="197.3" width="3.3" height="3.5" fill="#6e5031"/>
<rect x="145.71" y="200.22" width="3.3" height="11.68" fill="#968ab9"/>
<rect x="145.71" y="197.3" width="3.3" height="2.92" fill="#6e5031"/>
<rect x="149.38" y="200.22" width="3.3" height="11.68" fill="#b9be92"/>
<rect x="149.38" y="197.3" width="3.3" height="2.92" fill="#6e5031"/>
<rect x="153.04" y="199.05" width="3.3" height="12.85" fill="#968ab9"/>
<rect x="153.04" y="197.3" width="3.3" height="1.75" fill="#6e5031"/>
<rect x="156.71" y="199.05" width="3.3" height="12.85" fill="#968ab9"/>
<rect x="156.71" y="197.3" width="3.3" height="1.75" fill="#6e5031"/>
<rect x="160.38" y="198.76" width="3.3" height="13.14" fill="#968ab9"/>
<rect x="160.38" y="197.3" width="3.3" height="1.46" fill="#6e5031"/>
<rect x="164.04" y="198.76" width="3.3" height="13.14" fill="#cdc7cd"/>
<rect x="164.04" y="197.3" width="3.3" height="1.46" fill="#6e5031"/>
<rect x="167.71" y="198.76" width="3.3" height="13.14" fill="#968ab9"/>
<rect x="167.71" y="197.3" width="3.3" height="1.46" fill="#6e5031"/>
<rect x="171.38" y="198.76" width="3.3" height="13.14" fill="#72aad6"/>
<rect x="171.38" y="197.3" width="3.3" height="1.46" fill="#6e5031"/>
<rect x="175.04" y="197.74" width="3.3" height="14.16" fill="#cdc7cd"/>
<rect x="175.04" y="197.3" width="3.3" height="0.44" fill="#6e5031"/>
<rect x="178.71" y="197.74" width="3.3" height="14.16" fill="#b9be92"/>
<rect x="178.71" y="197.3" width="3.3" height="0.44" fill="#6e5031"/>
<rect x="182.38" y="197.74" width="3.3" height="14.16" fill="#968ab9"/>
<rect x="182.38" y="197.3" width="3.3" height="0.44" fill="#6e5031"/>
<rect x="186.05" y="197.74" width="3.3" height="14.16" fill="#b9be92"/>
<rect x="186.05" y="197.3" width="3.3" height="0.44" fill="#6e5031"/>
<rect x="189.71" y="197.3" width="3.3" height="14.6" fill="#968ab9"/>
<rect x="193.38" y="197.3" width="3.3" height="14.6" fill="#b9be92"/>
<rect x="197.05" y="197.3" width="3.3" height="14.6" fill="#b9be92"/>
<rect x="200.71" y="197.3" width="3.3" height="14.6" fill="#b9be92"/>
<rect x="57.7" y="216.7" width="3.3" height="14.6" fill="#b9be92"/>
<rect x="61.37" y="216.7" width="3.3" height="14.6" fill="#968ab9"/>
<rect x="65.03" y="216.7" width="3.3" height="14.6" fill="#968ab9"/>
<rect x="68.7" y="216.7" width="3.3" height="14.6" fill="#968ab9"/>
<rect x="72.37" y="216.7" width="3.3" height="14.6" fill="#cdc7cd"/>
<rect x="76.03" y="216.7" width="3.3" height="14.6" fill="#968ab9"/>
<rect x="79.7" y="216.7" width="3.3" height="14.6" fill="#72aad6"/>
<rect x="83.37" y="216.7" width="3.3" height="14.6" fill="#72aad6"/>
<rect x="87.04" y="216.7" width="3.3" height="14.6" fill="#72aad6"/>
<rect x="90.7" y="216.7" width="3.3" height="14.6" fill="#968ab9"/>
<rect x="94.37" y="216.7" width="3.3" height="14.6" fill="#968ab9"/>
<rect x="98.04" y="216.7" width="3.3" height="14.6" fill="#b9be92"/>
<rect x="101.7" y="216.7" width="3.3" height="14.6" fill="#b9be92"/>
<rect x="105.37" y="216.7" width="3.3" height="14.6" fill="#72aad6"/>
<rect x="109.04" y="216.7" width="3.3" height="14.6" fill="#72aad6"/>
<rect x="112.7" y="216.7" width="3.3" height="14.6" fill="#cdc7cd"/>
<rect x="116.37" y="216.7" width="3.3" height="14.6" fill="#b9be92"/>
<rect x="120.04" y="216.7" width="3.3" height="14.6" fill="#b9be92"/>
<rect x="123.71" y="216.7" width="3.3" height="14.6" fill="#968ab9"/>
<rect x="127.37" y="216.7" width="3.3" height="14.6" fill="#b9be92"/>
<rect x="131.04" y="216.7" width="3.3" height="14.6" fill="#72aad6"/>
<rect x="134.71" y="216.7" width="3.3" height="14.6" fill="#cdc7cd"/>
<rect x="138.37" y="216.7" width="3.3" height="14.6" fill="#b9be92"/>
<rect x="142.04" y="216.7" width="3.3" height="14.6" fill="#b9be92"/>
<rect x="145.71" y="216.7" width="3.3" height="14.6" fill="#968ab9"/>
<rect x="149.38" y="216.7" width="3.3" height="14.6" fill="#b9be92"/>
<rect x="153.04" y="216.7" width="3.3" height="14.6" fill="#968ab9"/>
<rect x="156.71" y="216.7" width="3.3" height="14.6" fill="#cdc7cd"/>
<rect x="160.38" y="216.7" width="3.3" height="14.6" fill="#968ab9"/>
<rect x="164.04" y="216.7" width="3.3" height="14.6" fill="#cdc7cd"/>
<rect x="167.71" y="216.7" width="3.3" height="14.6" fill="#968ab9"/>
<rect x="171.38" y="216.7" width="3.3" height="14.6" fill="#72aad6"/>
<rect x="175.04" y="216.7" width="3.3" height="14.6" fill="#cdc7cd"/>
<rect x="178.71" y="216.7" width="3.3" height="14.6" fill="#b9be92"/>
<rect x="182.38" y="216.7" width="3.3" height="14.6" fill="#968ab9"/>
<rect x="186.05" y="216.7" width="3.3" height="14.6" fill="#b9be92"/>
<rect x="189.71" y="216.7" width="3.3" height="14.6" fill="#968ab9"/>
<rect x="193.38" y="216.7" width="3.3" height="14.6" fill="#b9be92"/>
<rect x="197.05" y="216.7" width="3.3" height="14.6" fill="#b9be92"/>
<rect x="200.71" y="216.7" width="3.3" height="14.6" fill="#b9be92"/>
<rect x="57.7" y="235.9" width="3.3" height="14.6" fill="#b9be92"/>
<rect x="61.37" y="235.9" width="3.3" height="14.6" fill="#968ab9"/>
<rect x="65.03" y="235.9" width="3.3" height="14.6" fill="#968ab9"/>
<rect x="68.7" y="235.9" width="3.3" height="14.6" fill="#968ab9"/>
<rect x="72.37" y="235.9" width="3.3" height="14.6" fill="#cdc7cd"/>
<rect x="76.03" y="235.9" width="3.3" height="14.6" fill="#968ab9"/>
<rect x="79.7" y="235.9" width="3.3" height="14.6" fill="#72aad6"/>
<rect x="83.37" y="235.9" width="3.3" height="14.6" fill="#72aad6"/>
<rect x="87.04" y="235.9" width="3.3" height="14.6" fill="#72aad6"/>
<rect x="90.7" y="235.9" width="3.3" height="14.6" fill="#968ab9"/>
<rect x="94.37" y="235.9" width="3.3" height="14.6" fill="#968ab9"/>
<rect x="98.04" y="235.9" width="3.3" height="14.6" fill="#b9be92"/>
<rect x="101.7" y="235.9" width="3.3" height="14.6" fill="#b9be92"/>
<rect x="105.37" y="235.9" width="3.3" height="14.6" fill="#72aad6"/>
<rect x="109.04" y="235.9" width="3.3" height="14.6" fill="#72aad6"/>
<rect x="112.7" y="235.9" width="3.3" height="14.6" fill="#968ab9"/>
<rect x="116.37" y="235.9" width="3.3" height="14.6" fill="#b9be92"/>
<rect x="120.04" y="235.9" width="3.3" height="14.6" fill="#b9be92"/>
<rect x="123.71" y="235.9" width="3.3" height="14.6" fill="#968ab9"/>
<rect x="127.37" y="235.9" width="3.3" height="14.6" fill="#b9be92"/>
<rect x="131.04" y="235.9" width="3.3" height="14.6" fill="#72aad6"/>
<rect x="134.71" y="235.9" width="3.3" height="14.6" fill="#cdc7cd"/>
<rect x="138.37" y="235.9" width="3.3" height="14.6" fill="#b9be92"/>
<rect x="142.04" y="235.9" width="3.3" height="14.6" fill="#b9be92"/>
<rect x="145.71" y="235.9" width="3.3" height="14.6" fill="#968ab9"/>
<rect x="149.38" y="235.9" width="3.3" height="14.6" fill="#b9be92"/>
<rect x="153.04" y="235.9" width="3.3" height="14.6" fill="#968ab9"/>
<rect x="156.71" y="235.9" width="3.3" height="14.6" fill="#968ab9"/>
<rect x="160.38" y="235.9" width="3.3" height="14.6" fill="#968ab9"/>
<rect x="164.04" y="235.9" width="3.3" height="14.6" fill="#cdc7cd"/>
<rect x="167.71" y="235.9" width="3.3" height="14.6" fill="#968ab9"/>
<rect x="171.38" y="235.9" width="3.3" height="14.6" fill="#72aad6"/>
<rect x="175.04" y="235.9" width="3.3" height="14.6" fill="#cdc7cd"/>
<rect x="178.71" y="235.9" width="3.3" height="14.6" fill="#b9be92"/>
<rect x="182.38" y="235.9" width="3.3" height="14.6" fill="#968ab9"/>
<rect x="186.05" y="235.9" width="3.3" height="14.6" fill="#b9be92"/>
<rect x="189.71" y="235.9" width="3.3" height="14.6" fill="#968ab9"/>
<rect x="193.38" y="235.9" width="3.3" height="14.6" fill="#b9be92"/>
<rect x="197.05" y="235.9" width="3.3" height="14.6" fill="#b9be92"/>
<rect x="200.71" y="235.9" width="3.3" height="14.6" fill="#b9be92"/>
<rect x="57.7" y="255.1" width="3.3" height="14.6" fill="#b9be92"/>
<rect x="61.37" y="255.1" width="3.3" height="14.6" fill="#968ab9"/>
<rect x="65.03" y="255.1" width="3.3" height="14.6" fill="#968ab9"/>
<rect x="68.7" y="255.1" width="3.3" height="14.6" fill="#968ab9"/>
<rect x="72.37" y="255.1" width="3.3" height="14.6" fill="#cdc7cd"/>
<rect x="76.03" y="255.1" width="3.3" height="14.6" fill="#968ab9"/>
<rect x="79.7" y="255.1" width="3.3" height="14.6" fill="#72aad6"/>
<rect x="83.37" y="255.1" width="3.3" height="14.6" fill="#72aad6"/>
<rect x="87.04" y="255.1" width="3.3" height="14.6" fill="#72aad6"/>
<rect x="90.7" y="255.1" width="3.3" height="14.6" fill="#968ab9"/>
<rect x="94.37" y="255.1" width="3.3" height="14.6" fill="#968ab9"/>
<rect x="98.04" y="255.1" width="3.3" height="14.6" fill="#b9be92"/>
<rect x="101.7" y="255.1" width="3.3" height="14.6" fill="#b9be92"/>
<rect x="105.37" y="255.1" width="3.3" height="14.6" fill="#72aad6"/>
<rect x="109.04" y="255.1" width="3.3" height="14.6" fill="#72aad6"/>
<rect x="112.7" y="255.1" width="3.3" height="14.6" fill="#cdc7cd"/>
<rect x="116.37" y="255.1" width="3.3" height="14.6" fill="#b9be92"/>
<rect x="120.04" y="255.1" width="3.3" height="14.6" fill="#b9be92"/>
<rect x="123.71" y="255.1" width="3.3" height="14.6" fill="#968ab9"/>
<rect x="127.37" y="255.1" width="3.3" height="14.6" fill="#b9be92"/>
<rect x="131.04" y="255.1" width="3.3" height="14.6" fill="#72aad6"/>
<rect x="134.71" y="255.1" width="3.3" height="14.6" fill="#cdc7cd"/>
<rect x="138.37" y="255.1" width="3.3" height="14.6" fill="#b9be92"/>
<rect x="142.04" y="255.1" width="3.3" height="14.6" fill="#b9be92"/>
<rect x="145.71" y="255.1" width="3.3" height="14.6" fill="#968ab9"/>
<rect x="149.38" y="255.1" width="3.3" height="14.6" fill="#b9be92"/>
<rect x="153.04" y="255.1" width="3.3" height="14.6" fill="#968ab9"/>
<rect x="156.71" y="255.1" width="3.3" height="14.6" fill="#cdc7cd"/>
<rect x="160.38" y="255.1" width="3.3" height="14.6" fill="#968ab9"/>
<rect x="164.04" y="255.1" width="3.3" height="14.6" fill="#cdc7cd"/>
<rect x="167.71" y="255.1" width="3.3" height="14.6" fill="#968ab9"/>
<rect x="171.38" y="255.1" width="3.3" height="14.6" fill="#72aad6"/>
<rect x="175.04" y="255.1" width="3.3" height="14.6" fill="#cdc7cd"/>
<rect x="178.71" y="255.1" width="3.3" height="14.6" fill="#b9be92"/>
<rect x="182.38" y="255.1" width="3.3" height="14.6" fill="#968ab9"/>
<rect x="186.05" y="255.1" width="3.3" height="14.6" fill="#b9be92"/>
<rect x="189.71" y="255.1" width="3.3" height="14.6" fill="#968ab9"/>
<rect x="193.38" y="255.1" width="3.3" height="14.6" fill="#b9be92"/>
<rect x="197.05" y="255.1" width="3.3" height="14.6" fill="#b9be92"/>
<rect x="200.71" y="255.1" width="3.3" height="14.6" fill="#b9be92"/>
<rect x="57.7" y="274.2" width="3.3" height="14.6" fill="#b9be92"/>
<rect x="61.37" y="274.2" width="3.3" height="14.6" fill="#968ab9"/>
<rect x="65.03" y="274.2" width="3.3" height="14.6" fill="#968ab9"/>
<rect x="68.7" y="274.2" width="3.3" height="14.6" fill="#968ab9"/>
<rect x="72.37" y="274.2" width="3.3" height="14.6" fill="#cdc7cd"/>
<rect x="76.03" y="274.2" width="3.3" height="14.6" fill="#968ab9"/>
<rect x="79.7" y="274.2" width="3.3" height="14.6" fill="#72aad6"/>
<rect x="83.37" y="274.2" width="3.3" height="14.6" fill="#72aad6"/>
<rect x="87.04" y="274.64" width="3.3" height="14.16" fill="#72aad6"/>
<rect x="87.04" y="274.2" width="3.3" height="0.44" fill="#6e5031"/>
<rect x="90.7" y="274.64" width="3.3" height="14.16" fill="#968ab9"/>
<rect x="90.7" y="274.2" width="3.3" height="0.44" fill="#6e5031"/>
<rect x="94.37" y="274.64" width="3.3" height="14.16" fill="#968ab9"/>
<rect x="94.37" y="274.2" width="3.3" height="0.44" fill="#6e5031"/>
<rect x="98.04" y="274.78" width="3.3" height="14.02" fill="#b9be92"/>
<rect x="98.04" y="274.2" width="3.3" height="0.58" fill="#6e5031"/>
<rect x="101.7" y="275.37" width="3.3" height="13.43" fill="#b9be92"/>
<rect x="101.7" y="274.2" width="3.3" height="1.17" fill="#6e5031"/>
<rect x="105.37" y="276.54" width="3.3" height="12.26" fill="#72aad6"/>
<rect x="105.37" y="274.2" width="3.3" height="2.34" fill="#6e5031"/>
<rect x="109.04" y="277.7" width="3.3" height="11.1" fill="#72aad6"/>
<rect x="109.04" y="274.2" width="3.3" height="3.5" fill="#6e5031"/>
<rect x="112.7" y="277.7" width="3.3" height="11.1" fill="#968ab9"/>
<rect x="112.7" y="274.2" width="3.3" height="3.5" fill="#6e5031"/>
<rect x="116.37" y="281.35" width="3.3" height="7.45" fill="#b9be92"/>
<rect x="116.37" y="274.2" width="3.3" height="7.15" fill="#6e5031"/>
<rect x="120.04" y="281.35" width="3.3" height="7.45" fill="#b9be92"/>
<rect x="120.04" y="274.2" width="3.3" height="7.15" fill="#6e5031"/>
<rect x="123.71" y="282.52" width="3.3" height="6.28" fill="#968ab9"/>
<rect x="123.71" y="274.2" width="3.3" height="8.32" fill="#6e5031"/>
<rect x="127.37" y="280.48" width="3.3" height="8.32" fill="#b9be92"/>
<rect x="127.37" y="274.2" width="3.3" height="6.28" fill="#6e5031"/>
<rect x="131.04" y="280.48" width="3.3" height="8.32" fill="#72aad6"/>
<rect x="131.04" y="274.2" width="3.3" height="6.28" fill="#6e5031"/>
<rect x="134.71" y="278.29" width="3.3" height="10.51" fill="#cdc7cd"/>
<rect x="134.71" y="274.2" width="3.3" height="4.09" fill="#6e5031"/>
<rect x="138.37" y="277.12" width="3.3" height="11.68" fill="#b9be92"/>
<rect x="138.37" y="274.2" width="3.3" height="2.92" fill="#6e5031"/>
<rect x="142.04" y="275.37" width="3.3" height="13.43" fill="#b9be92"/>
<rect x="142.04" y="274.2" width="3.3" height="1.17" fill="#6e5031"/>
<rect x="145.71" y="274.64" width="3.3" height="14.16" fill="#968ab9"/>
<rect x="145.71" y="274.2" width="3.3" height="0.44" fill="#6e5031"/>
<rect x="149.38" y="274.2" width="3.3" height="14.6" fill="#b9be92"/>
<rect x="153.04" y="274.2" width="3.3" height="14.6" fill="#968ab9"/>
<rect x="156.71" y="274.2" width="3.3" height="14.6" fill="#968ab9"/>
<rect x="160.38" y="274.2" width="3.3" height="14.6" fill="#968ab9"/>
<rect x="164.04" y="274.2" width="3.3" height="14.6" fill="#cdc7cd"/>
<rect x="167.71" y="274.2" width="3.3" height="14.6" fill="#968ab9"/>
<rect x="171.38" y="274.2" width="3.3" height="14.6" fill="#72aad6"/>
<rect x="175.04" y="274.2" width="3.3" height="14.6" fill="#cdc7cd"/>
<rect x="178.71" y="274.2" width="3.3" height="14.6" fill="#b9be92"/>
<rect x="182.38" y="274.2" width="3.3" height="14.6" fill="#968ab9"/>
<rect x="186.05" y="274.2" width="3.3" height="14.6" fill="#b9be92"/>
<rect x="189.71" y="274.2" width="3.3" height="14.6" fill="#968ab9"/>
<rect x="193.38" y="274.2" width="3.3" height="14.6" fill="#b9be92"/>
<rect x="197.05" y="274.2" width="3.3" height="14.6" fill="#b9be92"/>
<rect x="200.71" y="274.2" width="3.3" height="14.6" fill="#b9be92"/>
<rect x="101.6" y="131.2" width="29.1" height="166.2" fill="none" stroke="#1a1a1a" stroke-width="0.75" stroke-dasharray="1.8,0.9"/>
<rect x="105.4" y="291.1" width="84.2" height="3.9" rx="1" fill="#fff" stroke="#888" stroke-width="0.6"/>
<rect x="189.8" y="291.1" width="14.9" height="3.9" rx="1" fill="#fff" stroke="#8cbbe6" stroke-width="0.6"/>
<text x="102.1" y="125" font-size="6.5" fill="#222" stroke="#222" stroke-width="0.1" textLength="23.5" lengthAdjust="spacingAndGlyphs">IVS2-654</text>
<line x1="114.3" y1="126.3" x2="114.3" y2="129.5" stroke="#111" stroke-width="0.8"/>
<path d="M112.9,128.6 L114.3,131.3 L115.7,128.6 Z" stroke="none" stroke-width="1" fill="#111"/>
<text x="144.8" y="125" font-size="6.5" fill="#222" stroke="#222" stroke-width="0.1" textLength="27.5" lengthAdjust="spacingAndGlyphs">rs1609812</text>
<line x1="158.8" y1="126.3" x2="158.8" y2="129.5" stroke="#111" stroke-width="0.8"/>
<path d="M157.4,128.6 L158.8,131.3 L160.2,128.6 Z" stroke="none" stroke-width="1" fill="#111"/>
<text x="48.7" y="149.1" font-size="6.6" fill="#333" stroke="#333" stroke-width="0.1" text-anchor="end" textLength="22.7" lengthAdjust="spacingAndGlyphs">crAAVS1</text>
<text x="48.7" y="188" font-size="6.6" fill="#333" stroke="#333" stroke-width="0.1" text-anchor="end" textLength="30.8" lengthAdjust="spacingAndGlyphs">crIVS2-654T</text>
<text x="48.7" y="236" font-size="6.6" fill="#333" stroke="#333" stroke-width="0.1" text-anchor="end" textLength="22.7" lengthAdjust="spacingAndGlyphs">crAAVS1</text>
<text x="48.7" y="274.2" font-size="6.6" fill="#333" stroke="#333" stroke-width="0.1" text-anchor="end" textLength="30.8" lengthAdjust="spacingAndGlyphs">crIVS2-654T</text>
<line x1="52.5" y1="158.2" x2="52.5" y2="211.7" stroke="#222" stroke-width="0.8"/>
<line x1="52.5" y1="216.2" x2="52.5" y2="250.4" stroke="#222" stroke-width="0.8"/>
<line x1="52.5" y1="254.5" x2="52.5" y2="288.5" stroke="#222" stroke-width="0.8"/>
<g transform="translate(210.3 149.4)"><text x="0" y="0" font-size="6.6" fill="#3a3a3a">&#946;</text><text x="3.96" y="-3.83" font-size="3.3" fill="#3a3a3a">+</text><text x="6.27" y="0" font-size="6.6" fill="#3a3a3a">&#946;</text><text x="10.3" y="-3.63" font-size="3.3" fill="#3a3a3a">0</text><text x="11.75" y="1.98" font-size="3.04" fill="#3a3a3a">#1</text></g>
<g transform="translate(210.3 168.7)"><text x="0" y="0" font-size="6.6" fill="#3a3a3a">&#946;</text><text x="3.96" y="-3.83" font-size="3.3" fill="#3a3a3a">+</text><text x="6.27" y="0" font-size="6.6" fill="#3a3a3a">&#946;</text><text x="10.3" y="-3.63" font-size="3.3" fill="#3a3a3a">0</text><text x="11.75" y="1.98" font-size="3.04" fill="#3a3a3a">#1</text></g>
<g transform="translate(210.3 187.6)"><text x="0" y="0" font-size="6.6" fill="#3a3a3a">&#946;</text><text x="3.96" y="-3.83" font-size="3.3" fill="#3a3a3a">+</text><text x="6.27" y="0" font-size="6.6" fill="#3a3a3a">&#946;</text><text x="10.3" y="-3.63" font-size="3.3" fill="#3a3a3a">E</text><text x="11.75" y="1.98" font-size="3.04" fill="#3a3a3a">#1</text></g>
<g transform="translate(210.3 206.4)"><text x="0" y="0" font-size="6.6" fill="#3a3a3a">&#946;</text><text x="3.96" y="-3.83" font-size="3.3" fill="#3a3a3a">+</text><text x="6.27" y="0" font-size="6.6" fill="#3a3a3a">&#946;</text><text x="10.3" y="-3.63" font-size="3.3" fill="#3a3a3a">E</text><text x="11.75" y="1.98" font-size="3.04" fill="#3a3a3a">#2</text></g>
<g transform="translate(210.3 221.6)"><text x="0" y="0" font-size="6.6" fill="#3a3a3a">&#946;</text><text x="3.96" y="-3.83" font-size="3.3" fill="#3a3a3a">+</text><text x="6.27" y="0" font-size="6.6" fill="#3a3a3a">&#946;</text><text x="10.3" y="-3.63" font-size="3.3" fill="#3a3a3a">0</text><text x="11.75" y="1.98" font-size="3.04" fill="#3a3a3a">#4</text></g>
<text x="210" y="230.8" font-size="6.8" fill="#333" stroke="#333" stroke-width="0.1" textLength="26.7" lengthAdjust="spacingAndGlyphs">IVS2-654C</text>
<g transform="translate(210.3 240.5)"><text x="0" y="0" font-size="6.6" fill="#3a3a3a">&#946;</text><text x="3.96" y="-3.83" font-size="3.3" fill="#3a3a3a">+</text><text x="6.27" y="0" font-size="6.6" fill="#3a3a3a">&#946;</text><text x="10.3" y="-3.63" font-size="3.3" fill="#3a3a3a">0</text><text x="11.75" y="1.98" font-size="3.04" fill="#3a3a3a">#4</text></g>
<text x="210" y="249.7" font-size="6.8" fill="#333" stroke="#333" stroke-width="0.1" textLength="33.8" lengthAdjust="spacingAndGlyphs">IVS2-654C&gt;T</text>
<g transform="translate(210.3 259)"><text x="0" y="0" font-size="6.6" fill="#3a3a3a">&#946;</text><text x="3.96" y="-3.83" font-size="3.3" fill="#3a3a3a">+</text><text x="6.27" y="0" font-size="6.6" fill="#3a3a3a">&#946;</text><text x="10.3" y="-3.63" font-size="3.3" fill="#3a3a3a">0</text><text x="11.75" y="1.98" font-size="3.04" fill="#3a3a3a">#4</text></g>
<text x="210" y="268.2" font-size="6.8" fill="#333" stroke="#333" stroke-width="0.1" textLength="26.7" lengthAdjust="spacingAndGlyphs">IVS2-654C</text>
<g transform="translate(210.3 278)"><text x="0" y="0" font-size="6.6" fill="#3a3a3a">&#946;</text><text x="3.96" y="-3.83" font-size="3.3" fill="#3a3a3a">+</text><text x="6.27" y="0" font-size="6.6" fill="#3a3a3a">&#946;</text><text x="10.3" y="-3.63" font-size="3.3" fill="#3a3a3a">0</text><text x="11.75" y="1.98" font-size="3.04" fill="#3a3a3a">#4</text></g>
<text x="210" y="287.2" font-size="6.8" fill="#333" stroke="#333" stroke-width="0.1" textLength="33.8" lengthAdjust="spacingAndGlyphs">IVS2-654C&gt;T</text>
<rect x="57.4" y="300.9" width="9.8" height="3.5" fill="#b9be92"/>
<text x="71.2" y="305.5" font-size="6.8" fill="#333" stroke="#333" stroke-width="0.1">A</text>
<rect x="57.4" y="307.8" width="9.8" height="3.5" fill="#cdc7cd"/>
<text x="71.2" y="312.5" font-size="6.8" fill="#333" stroke="#333" stroke-width="0.1">C</text>
<rect x="83.8" y="300.9" width="10" height="3.5" fill="#72aad6"/>
<text x="97.4" y="305.5" font-size="6.8" fill="#333" stroke="#333" stroke-width="0.1">G</text>
<rect x="83.8" y="307.8" width="10" height="3.5" fill="#968ab9"/>
<text x="97.4" y="312.5" font-size="6.8" fill="#333" stroke="#333" stroke-width="0.1">T</text>
<rect x="110.2" y="300.9" width="10.1" height="3.5" fill="#4f5664"/>
<text x="122.7" y="305.5" font-size="6.8" fill="#333" stroke="#333" stroke-width="0.1" textLength="23.5" lengthAdjust="spacingAndGlyphs">Insertion</text>
<rect x="110.2" y="307.8" width="10.1" height="3.5" fill="#6e5031"/>
<text x="122.7" y="312.5" font-size="6.8" fill="#333" stroke="#333" stroke-width="0.1" textLength="21.5" lengthAdjust="spacingAndGlyphs">Deletion</text>
<rect x="158.2" y="301.6" width="9.9" height="3.4" fill="#fff" stroke="#222" stroke-width="0.6" stroke-dasharray="1.5,0.8"/>
<text x="170.9" y="305.5" font-size="6.8" fill="#333" stroke="#333" stroke-width="0.1" textLength="21.2" lengthAdjust="spacingAndGlyphs">Window</text>
<rect x="158.2" y="308.8" width="9.9" height="3.4" rx="0.8" fill="#fff" stroke="#777" stroke-width="0.6"/>
<text x="170.9" y="312.8" font-size="6.8" fill="#333" stroke="#333" stroke-width="0.1" textLength="17.1" lengthAdjust="spacingAndGlyphs">Spacer</text>
<rect x="158.2" y="315.6" width="9.9" height="3.4" rx="0.8" fill="#fff" stroke="#7fb3e3" stroke-width="0.6"/>
<text x="170.9" y="319" font-size="6.8" fill="#333" stroke="#333" stroke-width="0.1" textLength="12.1" lengthAdjust="spacingAndGlyphs">PAM</text>
<text x="291.1" y="213.7" font-size="11.5" fill="#222">D</text>
<line x1="375.8" y1="218.5" x2="396" y2="218.5" stroke="#2a2a2a" stroke-width="0.9"/>
<g transform="translate(377.8 212.3)"><text x="0" y="0" font-size="6.6" fill="#3a3a3a">&#946;</text><text x="3.96" y="-3.83" font-size="3.3" fill="#3a3a3a">+</text><text x="6.27" y="0" font-size="6.6" fill="#3a3a3a">&#946;</text><text x="10.3" y="-3.63" font-size="3.3" fill="#3a3a3a">0</text><text x="11.75" y="1.98" font-size="3.04" fill="#3a3a3a">#4</text></g>
<line x1="403.7" y1="218.5" x2="423.5" y2="218.5" stroke="#2a2a2a" stroke-width="0.9"/>
<g transform="translate(405.7 212.3)"><text x="0" y="0" font-size="6.6" fill="#3a3a3a">&#946;</text><text x="3.96" y="-3.83" font-size="3.3" fill="#3a3a3a">+</text><text x="6.27" y="0" font-size="6.6" fill="#3a3a3a">&#946;</text><text x="10.3" y="-3.63" font-size="3.3" fill="#3a3a3a">0</text><text x="11.75" y="1.98" font-size="3.04" fill="#3a3a3a">#5</text></g>
<line x1="431.2" y1="218.5" x2="450.8" y2="218.5" stroke="#2a2a2a" stroke-width="0.9"/>
<g transform="translate(433.2 212.3)"><text x="0" y="0" font-size="6.6" fill="#3a3a3a">&#946;</text><text x="3.96" y="-3.83" font-size="3.3" fill="#3a3a3a">+</text><text x="6.27" y="0" font-size="6.6" fill="#3a3a3a">&#946;</text><text x="10.3" y="-3.63" font-size="3.3" fill="#3a3a3a">E</text><text x="11.75" y="1.98" font-size="3.04" fill="#3a3a3a">#1</text></g>
<line x1="458.8" y1="218.5" x2="479" y2="218.5" stroke="#2a2a2a" stroke-width="0.9"/>
<g transform="translate(460.8 212.3)"><text x="0" y="0" font-size="6.6" fill="#3a3a3a">&#946;</text><text x="3.96" y="-3.83" font-size="3.3" fill="#3a3a3a">+</text><text x="6.27" y="0" font-size="6.6" fill="#3a3a3a">&#946;</text><text x="10.3" y="-3.63" font-size="3.3" fill="#3a3a3a">E</text><text x="11.75" y="1.98" font-size="3.04" fill="#3a3a3a">#2</text></g>
<g transform="translate(343.2 248.6) rotate(-45) translate(0 0)"><text x="0" y="0" font-size="7.2" fill="#333">&#946;</text><text x="4.32" y="-4.18" font-size="3.6" fill="#333">+</text><text x="6.84" y="0" font-size="7.2" fill="#333">&#946;</text><text x="11.23" y="-3.96" font-size="3.6" fill="#333">+</text></g>
<text x="356.9" y="248.6" font-size="8" fill="#333" stroke="#333" stroke-width="0.05" textLength="21.5" lengthAdjust="spacingAndGlyphs" transform="rotate(-45 356.9 248.6)">crAAVS1</text>
<text x="370.35" y="248.6" font-size="8" fill="#333" stroke="#333" stroke-width="0.05" textLength="31" lengthAdjust="spacingAndGlyphs" transform="rotate(-45 370.35 248.6)">crIVS2-654T</text>
<text x="383.95" y="248.6" font-size="8" fill="#333" stroke="#333" stroke-width="0.05" textLength="21.5" lengthAdjust="spacingAndGlyphs" transform="rotate(-45 383.95 248.6)">crAAVS1</text>
<text x="396.8" y="248.6" font-size="8" fill="#333" stroke="#333" stroke-width="0.05" textLength="31" lengthAdjust="spacingAndGlyphs" transform="rotate(-45 396.8 248.6)">crIVS2-654T</text>
<text x="410.4" y="248.6" font-size="8" fill="#333" stroke="#333" stroke-width="0.05" textLength="21.5" lengthAdjust="spacingAndGlyphs" transform="rotate(-45 410.4 248.6)">crAAVS1</text>
<text x="424" y="248.6" font-size="8" fill="#333" stroke="#333" stroke-width="0.05" textLength="31" lengthAdjust="spacingAndGlyphs" transform="rotate(-45 424 248.6)">crIVS2-654T</text>
<text x="437.6" y="248.6" font-size="8" fill="#333" stroke="#333" stroke-width="0.05" textLength="21.5" lengthAdjust="spacingAndGlyphs" transform="rotate(-45 437.6 248.6)">crAAVS1</text>
<text x="451.45" y="248.6" font-size="8" fill="#333" stroke="#333" stroke-width="0.05" textLength="31" lengthAdjust="spacingAndGlyphs" transform="rotate(-45 451.45 248.6)">crIVS2-654T</text>
<defs><linearGradient id="gelg" x1="0" y1="0" x2="0" y2="1"><stop offset="0" stop-color="#c8c6c8"/><stop offset="1" stop-color="#bebcbe"/></linearGradient><filter id="blur1" x="-20%" y="-100%" width="140%" height="300%"><feGaussianBlur stdDeviation="0.35"/></filter></defs>
<rect x="320.5" y="252.7" width="135.7" height="35.2" fill="url(#gelg)"/>
<rect x="322.5" y="255.5" width="9.7" height="3.6" rx="0.8" fill="#dcdcdc" stroke="#a09ea0" stroke-width="0.5"/>
<rect x="323.2" y="256.2" width="8.3" height="0.6" fill="#eeeeee"/>
<rect x="335.6" y="255.5" width="10.5" height="3.6" rx="0.8" fill="#dcdcdc" stroke="#a09ea0" stroke-width="0.5"/>
<rect x="336.3" y="256.2" width="9.1" height="0.6" fill="#eeeeee"/>
<rect x="349.5" y="255.5" width="10.4" height="3.6" rx="0.8" fill="#dcdcdc" stroke="#a09ea0" stroke-width="0.5"/>
<rect x="350.2" y="256.2" width="9" height="0.6" fill="#eeeeee"/>
<rect x="362.9" y="255.5" width="10.5" height="3.6" rx="0.8" fill="#dcdcdc" stroke="#a09ea0" stroke-width="0.5"/>
<rect x="363.6" y="256.2" width="9.1" height="0.6" fill="#eeeeee"/>
<rect x="376.5" y="255.5" width="10.5" height="3.6" rx="0.8" fill="#dcdcdc" stroke="#a09ea0" stroke-width="0.5"/>
<rect x="377.2" y="256.2" width="9.1" height="0.6" fill="#eeeeee"/>
<rect x="389.1" y="255.5" width="11" height="3.6" rx="0.8" fill="#dcdcdc" stroke="#a09ea0" stroke-width="0.5"/>
<rect x="389.8" y="256.2" width="9.6" height="0.6" fill="#eeeeee"/>
<rect x="402.5" y="255.5" width="11.4" height="3.6" rx="0.8" fill="#dcdcdc" stroke="#a09ea0" stroke-width="0.5"/>
<rect x="403.2" y="256.2" width="10" height="0.6" fill="#eeeeee"/>
<rect x="416.1" y="255.5" width="11.4" height="3.6" rx="0.8" fill="#dcdcdc" stroke="#a09ea0" stroke-width="0.5"/>
<rect x="416.8" y="256.2" width="10" height="0.6" fill="#eeeeee"/>
<rect x="429.9" y="255.5" width="11" height="3.6" rx="0.8" fill="#dcdcdc" stroke="#a09ea0" stroke-width="0.5"/>
<rect x="430.6" y="256.2" width="9.6" height="0.6" fill="#eeeeee"/>
<rect x="443.8" y="255.5" width="10.9" height="3.6" rx="0.8" fill="#dcdcdc" stroke="#a09ea0" stroke-width="0.5"/>
<rect x="444.5" y="256.2" width="9.5" height="0.6" fill="#eeeeee"/>
<g filter="url(#blur1)">
<rect x="322.6" y="261.8" width="10.5" height="2.8" fill="#1a1a1a"/>
<rect x="322.6" y="264.7" width="10.5" height="2.4" fill="#8c8c8c"/>
<rect x="322.6" y="267.45" width="10.5" height="1.9" fill="#2a2a2a"/>
<rect x="322.6" y="270.2" width="10.5" height="1.4" fill="#8f8f8f"/>
<rect x="322.6" y="272.05" width="10.5" height="1.1" fill="#9a9a9a"/>
<rect x="322.6" y="275" width="10.5" height="2" fill="#222"/>
<rect x="322.6" y="278.55" width="10.5" height="1.7" fill="#454545"/>
<rect x="322.6" y="283.45" width="10.5" height="1.5" fill="#6a6a6a"/>
<rect x="335.6" y="278.4" width="10.5" height="1.8" fill="#5a5a5a"/>
<rect x="349.5" y="275.1" width="10.4" height="1.8" fill="#2a2a2a"/>
<rect x="349.5" y="278.4" width="10.4" height="1.8" fill="#6a6a6a"/>
<rect x="362.9" y="275.1" width="10.5" height="1.8" fill="#6a6a6a"/>
<rect x="362.9" y="278.4" width="10.5" height="1.8" fill="#2a2a2a"/>
<rect x="376.5" y="275.1" width="10.5" height="1.8" fill="#2a2a2a"/>
<rect x="376.5" y="278.4" width="10.5" height="1.8" fill="#a8a8a8"/>
<rect x="389.1" y="275.1" width="11" height="1.8" fill="#707070"/>
<rect x="389.1" y="278.4" width="11" height="1.8" fill="#2a2a2a"/>
<rect x="402.5" y="275.1" width="11.4" height="1.8" fill="#2a2a2a"/>
<rect x="402.5" y="278.4" width="11.4" height="1.8" fill="#a5a5a5"/>
<rect x="416.1" y="275.1" width="11.4" height="1.8" fill="#666"/>
<rect x="416.1" y="278.4" width="11.4" height="1.8" fill="#2a2a2a"/>
<rect x="429.9" y="275.1" width="11" height="1.8" fill="#2a2a2a"/>
<rect x="429.9" y="278.4" width="11" height="1.8" fill="#8a8a8a"/>
<rect x="443.8" y="275.1" width="10.9" height="1.8" fill="#9a9a9a"/>
<rect x="443.8" y="278.4" width="10.9" height="1.8" fill="#1e1e1e"/>
</g>
<line x1="316.3" y1="276.3" x2="320.1" y2="276.3" stroke="#333" stroke-width="0.8"/>
<line x1="316.3" y1="280.1" x2="320.1" y2="280.1" stroke="#333" stroke-width="0.8"/>
<line x1="316.3" y1="285.2" x2="320.1" y2="285.2" stroke="#333" stroke-width="0.8"/>
<text x="313.4" y="276.7" font-size="7" fill="#444" stroke="#444" stroke-width="0.1" text-anchor="end" textLength="17.1" lengthAdjust="spacingAndGlyphs">500bp</text>
<text x="313.4" y="282.3" font-size="7" fill="#444" stroke="#444" stroke-width="0.1" text-anchor="end" textLength="17.1" lengthAdjust="spacingAndGlyphs">400bp</text>
<text x="313.4" y="288.6" font-size="7" fill="#444" stroke="#444" stroke-width="0.1" text-anchor="end" textLength="17.1" lengthAdjust="spacingAndGlyphs">300bp</text>
<line x1="456.3" y1="276" x2="460.3" y2="276" stroke="#333" stroke-width="0.8"/>
<line x1="456.3" y1="279.6" x2="460.3" y2="279.6" stroke="#333" stroke-width="0.8"/>
<text x="461.3" y="276.6" font-size="6.4" fill="#333" stroke="#333" stroke-width="0.1">A</text>
<text x="461.3" y="284.6" font-size="6.4" fill="#333" stroke="#333" stroke-width="0.1">N</text>
<text x="7.8" y="347.1" font-size="11.5" fill="#222" textLength="5.6" lengthAdjust="spacingAndGlyphs">E</text>
<rect x="38.4" y="358.4" width="8.3" height="4.3" fill="#4a6285"/>
<text x="49.3" y="362.6" font-size="5.6" fill="#555" stroke="#555" stroke-width="0.1">&#946;</text>
<rect x="58.5" y="358.4" width="8.3" height="4.3" fill="#74a9d8"/>
<text x="69.4" y="362.6" font-size="5.6" fill="#555" stroke="#555" stroke-width="0.1">&#947;</text>
<rect x="78.2" y="358.4" width="8.3" height="4.3" fill="#9789bb"/>
<text x="89.1" y="362.6" font-size="5.6" fill="#555" stroke="#555" stroke-width="0.1">&#948;</text>
<line x1="33.5" y1="369.6" x2="33.5" y2="447" stroke="#1a1a1a" stroke-width="1"/>
<line x1="30.6" y1="446.5" x2="153.7" y2="446.5" stroke="#1a1a1a" stroke-width="1"/>
<line x1="30.3" y1="446.2" x2="33.5" y2="446.2" stroke="#222" stroke-width="0.8"/>
<text x="27.8" y="448.6" font-size="7" fill="#333" stroke="#333" stroke-width="0.1" text-anchor="end" textLength="7.3" lengthAdjust="spacingAndGlyphs">0.0</text>
<line x1="30.3" y1="433.87" x2="33.5" y2="433.87" stroke="#222" stroke-width="0.8"/>
<text x="27.8" y="436.27" font-size="7" fill="#333" stroke="#333" stroke-width="0.1" text-anchor="end" textLength="7.3" lengthAdjust="spacingAndGlyphs">0.2</text>
<line x1="30.3" y1="421.53" x2="33.5" y2="421.53" stroke="#222" stroke-width="0.8"/>
<text x="27.8" y="423.93" font-size="7" fill="#333" stroke="#333" stroke-width="0.1" text-anchor="end" textLength="7.3" lengthAdjust="spacingAndGlyphs">0.4</text>
<line x1="30.3" y1="409.2" x2="33.5" y2="409.2" stroke="#222" stroke-width="0.8"/>
<text x="27.8" y="411.6" font-size="7" fill="#333" stroke="#333" stroke-width="0.1" text-anchor="end" textLength="7.3" lengthAdjust="spacingAndGlyphs">0.6</text>
<line x1="30.3" y1="396.86" x2="33.5" y2="396.86" stroke="#222" stroke-width="0.8"/>
<text x="27.8" y="399.26" font-size="7" fill="#333" stroke="#333" stroke-width="0.1" text-anchor="end" textLength="7.3" lengthAdjust="spacingAndGlyphs">0.8</text>
<line x1="30.3" y1="384.53" x2="33.5" y2="384.53" stroke="#222" stroke-width="0.8"/>
<text x="27.8" y="386.93" font-size="7" fill="#333" stroke="#333" stroke-width="0.1" text-anchor="end" textLength="7.3" lengthAdjust="spacingAndGlyphs">1.0</text>
<line x1="30.3" y1="372.2" x2="33.5" y2="372.2" stroke="#222" stroke-width="0.8"/>
<text x="27.8" y="374.6" font-size="7" fill="#333" stroke="#333" stroke-width="0.1" text-anchor="end" textLength="7.3" lengthAdjust="spacingAndGlyphs">1.2</text>
<text x="14" y="411" font-size="8.2" fill="#333" stroke="#333" stroke-width="0.1" text-anchor="middle" textLength="71.7" lengthAdjust="spacingAndGlyphs" transform="rotate(-90 14 411)">Globin (relative to <tspan font-style="italic">&#945;</tspan>)</text>
<rect x="38.8" y="432.63" width="9.6" height="13.57" fill="#4a6285"/>
<rect x="38.8" y="409.81" width="9.6" height="22.82" fill="#74a9d8"/>
<rect x="38.8" y="406.73" width="9.6" height="3.08" fill="#9789bb"/>
<line x1="43.6" y1="432.63" x2="43.6" y2="430.78" stroke="#222" stroke-width="0.7"/>
<line x1="41.8" y1="430.78" x2="45.4" y2="430.78" stroke="#222" stroke-width="0.7"/>
<line x1="43.6" y1="409.81" x2="43.6" y2="408.58" stroke="#222" stroke-width="0.7"/>
<line x1="41.8" y1="408.58" x2="45.4" y2="408.58" stroke="#222" stroke-width="0.7"/>
<line x1="43.6" y1="406.73" x2="43.6" y2="406.42" stroke="#222" stroke-width="0.7"/>
<line x1="41.8" y1="406.42" x2="45.4" y2="406.42" stroke="#222" stroke-width="0.7"/>
<line x1="43.6" y1="446.2" x2="43.6" y2="449.6" stroke="#222" stroke-width="0.8"/>
<rect x="52.9" y="396.86" width="9.6" height="49.34" fill="#4a6285"/>
<rect x="52.9" y="380.83" width="9.6" height="16.03" fill="#74a9d8"/>
<rect x="52.9" y="378.98" width="9.6" height="1.85" fill="#9789bb"/>
<line x1="57.7" y1="396.86" x2="57.7" y2="396.25" stroke="#222" stroke-width="0.7"/>
<line x1="55.9" y1="396.25" x2="59.5" y2="396.25" stroke="#222" stroke-width="0.7"/>
<line x1="57.7" y1="380.83" x2="57.7" y2="380.21" stroke="#222" stroke-width="0.7"/>
<line x1="55.9" y1="380.21" x2="59.5" y2="380.21" stroke="#222" stroke-width="0.7"/>
<line x1="57.7" y1="378.98" x2="57.7" y2="378.67" stroke="#222" stroke-width="0.7"/>
<line x1="55.9" y1="378.67" x2="59.5" y2="378.67" stroke="#222" stroke-width="0.7"/>
<line x1="57.7" y1="446.2" x2="57.7" y2="449.6" stroke="#222" stroke-width="0.8"/>
<rect x="67.2" y="433.25" width="9.6" height="12.95" fill="#4a6285"/>
<rect x="67.2" y="407.35" width="9.6" height="25.9" fill="#74a9d8"/>
<rect x="67.2" y="402.41" width="9.6" height="4.93" fill="#9789bb"/>
<line x1="72" y1="433.25" x2="72" y2="432.02" stroke="#222" stroke-width="0.7"/>
<line x1="70.2" y1="432.02" x2="73.8" y2="432.02" stroke="#222" stroke-width="0.7"/>
<line x1="72" y1="407.35" x2="72" y2="406.73" stroke="#222" stroke-width="0.7"/>
<line x1="70.2" y1="406.73" x2="73.8" y2="406.73" stroke="#222" stroke-width="0.7"/>
<line x1="72" y1="402.41" x2="72" y2="402.11" stroke="#222" stroke-width="0.7"/>
<line x1="70.2" y1="402.11" x2="73.8" y2="402.11" stroke="#222" stroke-width="0.7"/>
<line x1="72" y1="446.2" x2="72" y2="449.6" stroke="#222" stroke-width="0.8"/>
<rect x="81.5" y="406.11" width="9.6" height="40.09" fill="#4a6285"/>
<rect x="81.5" y="390.08" width="9.6" height="16.03" fill="#74a9d8"/>
<rect x="81.5" y="378.36" width="9.6" height="11.72" fill="#9789bb"/>
<line x1="86.3" y1="406.11" x2="86.3" y2="399.33" stroke="#222" stroke-width="0.7"/>
<line x1="84.5" y1="399.33" x2="88.1" y2="399.33" stroke="#222" stroke-width="0.7"/>
<line x1="86.3" y1="390.08" x2="86.3" y2="388.23" stroke="#222" stroke-width="0.7"/>
<line x1="84.5" y1="388.23" x2="88.1" y2="388.23" stroke="#222" stroke-width="0.7"/>
<line x1="86.3" y1="378.36" x2="86.3" y2="377.75" stroke="#222" stroke-width="0.7"/>
<line x1="84.5" y1="377.75" x2="88.1" y2="377.75" stroke="#222" stroke-width="0.7"/>
<line x1="86.3" y1="446.2" x2="86.3" y2="449.6" stroke="#222" stroke-width="0.8"/>
<rect x="96.2" y="428.93" width="9.6" height="17.27" fill="#4a6285"/>
<rect x="96.2" y="397.48" width="9.6" height="31.45" fill="#74a9d8"/>
<rect x="96.2" y="391.93" width="9.6" height="5.55" fill="#9789bb"/>
<line x1="101" y1="428.93" x2="101" y2="427.7" stroke="#222" stroke-width="0.7"/>
<line x1="99.2" y1="427.7" x2="102.8" y2="427.7" stroke="#222" stroke-width="0.7"/>
<line x1="101" y1="397.48" x2="101" y2="396.25" stroke="#222" stroke-width="0.7"/>
<line x1="99.2" y1="396.25" x2="102.8" y2="396.25" stroke="#222" stroke-width="0.7"/>
<line x1="101" y1="391.93" x2="101" y2="391.62" stroke="#222" stroke-width="0.7"/>
<line x1="99.2" y1="391.62" x2="102.8" y2="391.62" stroke="#222" stroke-width="0.7"/>
<line x1="101" y1="446.2" x2="101" y2="449.6" stroke="#222" stroke-width="0.8"/>
<rect x="110.4" y="404.26" width="9.6" height="41.94" fill="#4a6285"/>
<rect x="110.4" y="394.4" width="9.6" height="9.87" fill="#74a9d8"/>
<rect x="110.4" y="386.38" width="9.6" height="8.02" fill="#9789bb"/>
<line x1="115.2" y1="404.26" x2="115.2" y2="402.41" stroke="#222" stroke-width="0.7"/>
<line x1="113.4" y1="402.41" x2="117" y2="402.41" stroke="#222" stroke-width="0.7"/>
<line x1="115.2" y1="394.4" x2="115.2" y2="393.78" stroke="#222" stroke-width="0.7"/>
<line x1="113.4" y1="393.78" x2="117" y2="393.78" stroke="#222" stroke-width="0.7"/>
<line x1="115.2" y1="386.38" x2="115.2" y2="386.07" stroke="#222" stroke-width="0.7"/>
<line x1="113.4" y1="386.07" x2="117" y2="386.07" stroke="#222" stroke-width="0.7"/>
<line x1="115.2" y1="446.2" x2="115.2" y2="449.6" stroke="#222" stroke-width="0.8"/>
<rect x="124.8" y="427.08" width="9.6" height="19.12" fill="#4a6285"/>
<rect x="124.8" y="419.68" width="9.6" height="7.4" fill="#74a9d8"/>
<rect x="124.8" y="419.07" width="9.6" height="0.62" fill="#9789bb"/>
<line x1="129.6" y1="427.08" x2="129.6" y2="426.47" stroke="#222" stroke-width="0.7"/>
<line x1="127.8" y1="426.47" x2="131.4" y2="426.47" stroke="#222" stroke-width="0.7"/>
<line x1="129.6" y1="419.68" x2="129.6" y2="419.37" stroke="#222" stroke-width="0.7"/>
<line x1="127.8" y1="419.37" x2="131.4" y2="419.37" stroke="#222" stroke-width="0.7"/>
<line x1="129.6" y1="419.07" x2="129.6" y2="418.76" stroke="#222" stroke-width="0.7"/>
<line x1="127.8" y1="418.76" x2="131.4" y2="418.76" stroke="#222" stroke-width="0.7"/>
<line x1="129.6" y1="446.2" x2="129.6" y2="449.6" stroke="#222" stroke-width="0.8"/>
<rect x="139.2" y="403.03" width="9.6" height="43.17" fill="#4a6285"/>
<rect x="139.2" y="395.63" width="9.6" height="7.4" fill="#74a9d8"/>
<rect x="139.2" y="394.71" width="9.6" height="0.93" fill="#9789bb"/>
<line x1="144" y1="403.03" x2="144" y2="399.95" stroke="#222" stroke-width="0.7"/>
<line x1="142.2" y1="399.95" x2="145.8" y2="399.95" stroke="#222" stroke-width="0.7"/>
<line x1="144" y1="395.63" x2="144" y2="394.71" stroke="#222" stroke-width="0.7"/>
<line x1="142.2" y1="394.71" x2="145.8" y2="394.71" stroke="#222" stroke-width="0.7"/>
<line x1="144" y1="394.71" x2="144" y2="394.4" stroke="#222" stroke-width="0.7"/>
<line x1="142.2" y1="394.4" x2="145.8" y2="394.4" stroke="#222" stroke-width="0.7"/>
<line x1="144" y1="446.2" x2="144" y2="449.6" stroke="#222" stroke-width="0.8"/>
<text x="46.1" y="455.5" font-size="8" fill="#333" stroke="#333" stroke-width="0.05" text-anchor="end" textLength="22" lengthAdjust="spacingAndGlyphs" transform="rotate(-45 46.1 455.5)">crAAVS1</text>
<text x="60.2" y="455.5" font-size="8" fill="#333" stroke="#333" stroke-width="0.05" text-anchor="end" textLength="32" lengthAdjust="spacingAndGlyphs" transform="rotate(-45 60.2 455.5)">crIVS2-654T</text>
<text x="74.5" y="455.5" font-size="8" fill="#333" stroke="#333" stroke-width="0.05" text-anchor="end" textLength="22" lengthAdjust="spacingAndGlyphs" transform="rotate(-45 74.5 455.5)">crAAVS1</text>
<text x="88.8" y="455.5" font-size="8" fill="#333" stroke="#333" stroke-width="0.05" text-anchor="end" textLength="32" lengthAdjust="spacingAndGlyphs" transform="rotate(-45 88.8 455.5)">crIVS2-654T</text>
<text x="103.5" y="455.5" font-size="8" fill="#333" stroke="#333" stroke-width="0.05" text-anchor="end" textLength="22" lengthAdjust="spacingAndGlyphs" transform="rotate(-45 103.5 455.5)">crAAVS1</text>
<text x="117.7" y="455.5" font-size="8" fill="#333" stroke="#333" stroke-width="0.05" text-anchor="end" textLength="32" lengthAdjust="spacingAndGlyphs" transform="rotate(-45 117.7 455.5)">crIVS2-654T</text>
<text x="132.1" y="455.5" font-size="8" fill="#333" stroke="#333" stroke-width="0.05" text-anchor="end" textLength="22" lengthAdjust="spacingAndGlyphs" transform="rotate(-45 132.1 455.5)">crAAVS1</text>
<text x="146.5" y="455.5" font-size="8" fill="#333" stroke="#333" stroke-width="0.05" text-anchor="end" textLength="32" lengthAdjust="spacingAndGlyphs" transform="rotate(-45 146.5 455.5)">crIVS2-654T</text>
<line x1="27.5" y1="483.5" x2="47.7" y2="483.5" stroke="#2a2a2a" stroke-width="0.9"/>
<g transform="translate(29.9 492.3)"><text x="0" y="0" font-size="6.6" fill="#505050">&#946;</text><text x="3.96" y="-3.83" font-size="3.3" fill="#505050">+</text><text x="6.27" y="0" font-size="6.6" fill="#505050">&#946;</text><text x="10.3" y="-3.63" font-size="3.3" fill="#505050">0</text><text x="11.75" y="1.98" font-size="3.04" fill="#505050">#4</text></g>
<line x1="56.3" y1="483.5" x2="76.5" y2="483.5" stroke="#2a2a2a" stroke-width="0.9"/>
<g transform="translate(58.7 492.3)"><text x="0" y="0" font-size="6.6" fill="#505050">&#946;</text><text x="3.96" y="-3.83" font-size="3.3" fill="#505050">+</text><text x="6.27" y="0" font-size="6.6" fill="#505050">&#946;</text><text x="10.3" y="-3.63" font-size="3.3" fill="#505050">0</text><text x="11.75" y="1.98" font-size="3.04" fill="#505050">#5</text></g>
<line x1="85.2" y1="483.5" x2="105.6" y2="483.5" stroke="#2a2a2a" stroke-width="0.9"/>
<g transform="translate(87.6 492.3)"><text x="0" y="0" font-size="6.6" fill="#505050">&#946;</text><text x="3.96" y="-3.83" font-size="3.3" fill="#505050">+</text><text x="6.27" y="0" font-size="6.6" fill="#505050">&#946;</text><text x="10.3" y="-3.63" font-size="3.3" fill="#505050">E</text><text x="11.75" y="1.98" font-size="3.04" fill="#505050">#1</text></g>
<line x1="114.2" y1="483.5" x2="134.4" y2="483.5" stroke="#2a2a2a" stroke-width="0.9"/>
<g transform="translate(116.6 492.3)"><text x="0" y="0" font-size="6.6" fill="#505050">&#946;</text><text x="3.96" y="-3.83" font-size="3.3" fill="#505050">+</text><text x="6.27" y="0" font-size="6.6" fill="#505050">&#946;</text><text x="10.3" y="-3.63" font-size="3.3" fill="#505050">E</text><text x="11.75" y="1.98" font-size="3.04" fill="#505050">#2</text></g>
<text x="155.7" y="346.3" font-size="11.5" fill="#222" textLength="5" lengthAdjust="spacingAndGlyphs">F</text>
<rect x="176" y="358" width="8.2" height="4" fill="#4a6285"/>
<text x="186.7" y="361.9" font-size="5" fill="#444" stroke="#444" stroke-width="0.1" textLength="10.5" lengthAdjust="spacingAndGlyphs">HbA</text>
<rect x="203.7" y="358" width="8.2" height="4" fill="#74a9d8"/>
<text x="214.5" y="361.9" font-size="5" fill="#444" stroke="#444" stroke-width="0.1" textLength="9.5" lengthAdjust="spacingAndGlyphs">HbF</text>
<rect x="230.9" y="358" width="8.2" height="4" fill="#9789bb"/>
<text x="242" y="361.9" font-size="5" fill="#444" stroke="#444" stroke-width="0.1" textLength="12.4" lengthAdjust="spacingAndGlyphs">HbA2</text>
<rect x="261.6" y="358" width="8.2" height="4" fill="#693f66"/>
<text x="272.4" y="361.9" font-size="5" fill="#444" stroke="#444" stroke-width="0.1" textLength="23.9" lengthAdjust="spacingAndGlyphs">HbE/HbA2</text>
<line x1="183.5" y1="370" x2="183.5" y2="447" stroke="#1a1a1a" stroke-width="1"/>
<line x1="180.3" y1="446.5" x2="301" y2="446.5" stroke="#1a1a1a" stroke-width="1"/>
<line x1="179.6" y1="446.4" x2="183.5" y2="446.4" stroke="#222" stroke-width="0.8"/>
<text x="178" y="448.8" font-size="7" fill="#333" stroke="#333" stroke-width="0.1" text-anchor="end" textLength="3.2" lengthAdjust="spacingAndGlyphs">0</text>
<line x1="179.6" y1="431.56" x2="183.5" y2="431.56" stroke="#222" stroke-width="0.8"/>
<text x="178" y="433.96" font-size="7" fill="#333" stroke="#333" stroke-width="0.1" text-anchor="end" textLength="6.4" lengthAdjust="spacingAndGlyphs">20</text>
<line x1="179.6" y1="416.72" x2="183.5" y2="416.72" stroke="#222" stroke-width="0.8"/>
<text x="178" y="419.12" font-size="7" fill="#333" stroke="#333" stroke-width="0.1" text-anchor="end" textLength="6.4" lengthAdjust="spacingAndGlyphs">40</text>
<line x1="179.6" y1="401.88" x2="183.5" y2="401.88" stroke="#222" stroke-width="0.8"/>
<text x="178" y="404.28" font-size="7" fill="#333" stroke="#333" stroke-width="0.1" text-anchor="end" textLength="6.4" lengthAdjust="spacingAndGlyphs">60</text>
<line x1="179.6" y1="387.04" x2="183.5" y2="387.04" stroke="#222" stroke-width="0.8"/>
<text x="178" y="389.44" font-size="7" fill="#333" stroke="#333" stroke-width="0.1" text-anchor="end" textLength="6.4" lengthAdjust="spacingAndGlyphs">80</text>
<line x1="179.6" y1="372.2" x2="183.5" y2="372.2" stroke="#222" stroke-width="0.8"/>
<text x="178" y="374.6" font-size="7" fill="#333" stroke="#333" stroke-width="0.1" text-anchor="end" textLength="9.6" lengthAdjust="spacingAndGlyphs">100</text>
<text x="164.9" y="407.7" font-size="8.2" fill="#333" stroke="#333" stroke-width="0.1" text-anchor="middle" textLength="57.4" lengthAdjust="spacingAndGlyphs" transform="rotate(-90 164.9 407.7)">Hemoglobin (%)</text>
<rect x="188.4" y="441.58" width="9.5" height="4.82" fill="#4a6285"/>
<rect x="188.4" y="386.52" width="9.5" height="55.06" fill="#74a9d8"/>
<rect x="188.4" y="372.2" width="9.5" height="14.32" fill="#9789bb"/>
<line x1="193.15" y1="441.58" x2="193.15" y2="440.83" stroke="#222" stroke-width="0.7"/>
<line x1="191.35" y1="440.83" x2="194.95" y2="440.83" stroke="#222" stroke-width="0.7"/>
<line x1="193.15" y1="386.52" x2="193.15" y2="384.44" stroke="#222" stroke-width="0.7"/>
<line x1="191.35" y1="384.44" x2="194.95" y2="384.44" stroke="#222" stroke-width="0.7"/>
<line x1="193.15" y1="372.2" x2="193.15" y2="369.97" stroke="#222" stroke-width="0.7"/>
<line x1="191.35" y1="369.97" x2="194.95" y2="369.97" stroke="#222" stroke-width="0.7"/>
<line x1="193.15" y1="446.3" x2="193.15" y2="449.6" stroke="#222" stroke-width="0.8"/>
<rect x="202.7" y="391.27" width="9.5" height="55.13" fill="#4a6285"/>
<rect x="202.7" y="375.61" width="9.5" height="15.66" fill="#74a9d8"/>
<rect x="202.7" y="372.2" width="9.5" height="3.41" fill="#9789bb"/>
<line x1="207.45" y1="391.27" x2="207.45" y2="390.38" stroke="#222" stroke-width="0.7"/>
<line x1="205.65" y1="390.38" x2="209.25" y2="390.38" stroke="#222" stroke-width="0.7"/>
<line x1="207.45" y1="375.61" x2="207.45" y2="374.05" stroke="#222" stroke-width="0.7"/>
<line x1="205.65" y1="374.05" x2="209.25" y2="374.05" stroke="#222" stroke-width="0.7"/>
<line x1="207.45" y1="372.2" x2="207.45" y2="370.34" stroke="#222" stroke-width="0.7"/>
<line x1="205.65" y1="370.34" x2="209.25" y2="370.34" stroke="#222" stroke-width="0.7"/>
<line x1="207.45" y1="446.3" x2="207.45" y2="449.6" stroke="#222" stroke-width="0.8"/>
<rect x="217" y="441.58" width="9.5" height="4.82" fill="#4a6285"/>
<rect x="217" y="385.56" width="9.5" height="56.02" fill="#74a9d8"/>
<rect x="217" y="372.2" width="9.5" height="13.36" fill="#9789bb"/>
<line x1="221.75" y1="441.58" x2="221.75" y2="440.83" stroke="#222" stroke-width="0.7"/>
<line x1="219.95" y1="440.83" x2="223.55" y2="440.83" stroke="#222" stroke-width="0.7"/>
<line x1="221.75" y1="385.56" x2="221.75" y2="383.33" stroke="#222" stroke-width="0.7"/>
<line x1="219.95" y1="383.33" x2="223.55" y2="383.33" stroke="#222" stroke-width="0.7"/>
<line x1="221.75" y1="372.2" x2="221.75" y2="370.34" stroke="#222" stroke-width="0.7"/>
<line x1="219.95" y1="370.34" x2="223.55" y2="370.34" stroke="#222" stroke-width="0.7"/>
<line x1="221.75" y1="446.3" x2="221.75" y2="449.6" stroke="#222" stroke-width="0.8"/>
<rect x="231.4" y="408.04" width="9.5" height="38.36" fill="#4a6285"/>
<rect x="231.4" y="380.58" width="9.5" height="27.45" fill="#74a9d8"/>
<rect x="231.4" y="372.2" width="9.5" height="8.38" fill="#9789bb"/>
<line x1="236.15" y1="408.04" x2="236.15" y2="405.59" stroke="#222" stroke-width="0.7"/>
<line x1="234.35" y1="405.59" x2="237.95" y2="405.59" stroke="#222" stroke-width="0.7"/>
<line x1="236.15" y1="380.58" x2="236.15" y2="379.62" stroke="#222" stroke-width="0.7"/>
<line x1="234.35" y1="379.62" x2="237.95" y2="379.62" stroke="#222" stroke-width="0.7"/>
<line x1="236.15" y1="372.2" x2="236.15" y2="371.83" stroke="#222" stroke-width="0.7"/>
<line x1="234.35" y1="371.83" x2="237.95" y2="371.83" stroke="#222" stroke-width="0.7"/>
<line x1="236.15" y1="446.3" x2="236.15" y2="449.6" stroke="#222" stroke-width="0.8"/>
<rect x="246.1" y="436.9" width="9.5" height="9.5" fill="#4a6285"/>
<rect x="246.1" y="414.57" width="9.5" height="22.33" fill="#74a9d8"/>
<rect x="246.1" y="372.2" width="9.5" height="42.37" fill="#693f66"/>
<line x1="250.85" y1="436.9" x2="250.85" y2="431.93" stroke="#222" stroke-width="0.7"/>
<line x1="249.05" y1="431.93" x2="252.65" y2="431.93" stroke="#222" stroke-width="0.7"/>
<line x1="250.85" y1="414.57" x2="250.85" y2="410.41" stroke="#222" stroke-width="0.7"/>
<line x1="249.05" y1="410.41" x2="252.65" y2="410.41" stroke="#222" stroke-width="0.7"/>
<line x1="250.85" y1="372.2" x2="250.85" y2="364.78" stroke="#222" stroke-width="0.7"/>
<line x1="249.05" y1="364.78" x2="252.65" y2="364.78" stroke="#222" stroke-width="0.7"/>
<line x1="250.85" y1="446.3" x2="250.85" y2="449.6" stroke="#222" stroke-width="0.8"/>
<rect x="260.3" y="405.74" width="9.5" height="40.66" fill="#4a6285"/>
<rect x="260.3" y="388.67" width="9.5" height="17.07" fill="#74a9d8"/>
<rect x="260.3" y="372.2" width="9.5" height="16.47" fill="#693f66"/>
<line x1="265.05" y1="405.74" x2="265.05" y2="403.73" stroke="#222" stroke-width="0.7"/>
<line x1="263.25" y1="403.73" x2="266.85" y2="403.73" stroke="#222" stroke-width="0.7"/>
<line x1="265.05" y1="388.67" x2="265.05" y2="387.04" stroke="#222" stroke-width="0.7"/>
<line x1="263.25" y1="387.04" x2="266.85" y2="387.04" stroke="#222" stroke-width="0.7"/>
<line x1="265.05" y1="372.2" x2="265.05" y2="369.23" stroke="#222" stroke-width="0.7"/>
<line x1="263.25" y1="369.23" x2="266.85" y2="369.23" stroke="#222" stroke-width="0.7"/>
<line x1="265.05" y1="446.3" x2="265.05" y2="449.6" stroke="#222" stroke-width="0.8"/>
<rect x="274.8" y="436.09" width="9.5" height="10.31" fill="#4a6285"/>
<rect x="274.8" y="408.71" width="9.5" height="27.38" fill="#74a9d8"/>
<rect x="274.8" y="372.2" width="9.5" height="36.51" fill="#693f66"/>
<line x1="279.55" y1="436.09" x2="279.55" y2="435.64" stroke="#222" stroke-width="0.7"/>
<line x1="277.75" y1="435.64" x2="281.35" y2="435.64" stroke="#222" stroke-width="0.7"/>
<line x1="279.55" y1="408.71" x2="279.55" y2="408.19" stroke="#222" stroke-width="0.7"/>
<line x1="277.75" y1="408.19" x2="281.35" y2="408.19" stroke="#222" stroke-width="0.7"/>
<line x1="279.55" y1="372.2" x2="279.55" y2="370.34" stroke="#222" stroke-width="0.7"/>
<line x1="277.75" y1="370.34" x2="281.35" y2="370.34" stroke="#222" stroke-width="0.7"/>
<line x1="279.55" y1="446.3" x2="279.55" y2="449.6" stroke="#222" stroke-width="0.8"/>
<rect x="289.2" y="404.85" width="9.5" height="41.55" fill="#4a6285"/>
<rect x="289.2" y="394.01" width="9.5" height="10.83" fill="#74a9d8"/>
<rect x="289.2" y="372.2" width="9.5" height="21.81" fill="#693f66"/>
<line x1="293.95" y1="404.85" x2="293.95" y2="404.11" stroke="#222" stroke-width="0.7"/>
<line x1="292.15" y1="404.11" x2="295.75" y2="404.11" stroke="#222" stroke-width="0.7"/>
<line x1="293.95" y1="394.01" x2="293.95" y2="392.98" stroke="#222" stroke-width="0.7"/>
<line x1="292.15" y1="392.98" x2="295.75" y2="392.98" stroke="#222" stroke-width="0.7"/>
<line x1="293.95" y1="372.2" x2="293.95" y2="371.46" stroke="#222" stroke-width="0.7"/>
<line x1="292.15" y1="371.46" x2="295.75" y2="371.46" stroke="#222" stroke-width="0.7"/>
<line x1="293.95" y1="446.3" x2="293.95" y2="449.6" stroke="#222" stroke-width="0.8"/>
<text x="195.65" y="455.7" font-size="8" fill="#333" stroke="#333" stroke-width="0.05" text-anchor="end" textLength="22" lengthAdjust="spacingAndGlyphs" transform="rotate(-45 195.65 455.7)">crAAVS1</text>
<text x="209.95" y="455.7" font-size="8" fill="#333" stroke="#333" stroke-width="0.05" text-anchor="end" textLength="32" lengthAdjust="spacingAndGlyphs" transform="rotate(-45 209.95 455.7)">crIVS2-654T</text>
<text x="224.25" y="455.7" font-size="8" fill="#333" stroke="#333" stroke-width="0.05" text-anchor="end" textLength="22" lengthAdjust="spacingAndGlyphs" transform="rotate(-45 224.25 455.7)">crAAVS1</text>
<text x="238.65" y="455.7" font-size="8" fill="#333" stroke="#333" stroke-width="0.05" text-anchor="end" textLength="32" lengthAdjust="spacingAndGlyphs" transform="rotate(-45 238.65 455.7)">crIVS2-654T</text>
<text x="253.35" y="455.7" font-size="8" fill="#333" stroke="#333" stroke-width="0.05" text-anchor="end" textLength="22" lengthAdjust="spacingAndGlyphs" transform="rotate(-45 253.35 455.7)">crAAVS1</text>
<text x="267.55" y="455.7" font-size="8" fill="#333" stroke="#333" stroke-width="0.05" text-anchor="end" textLength="32" lengthAdjust="spacingAndGlyphs" transform="rotate(-45 267.55 455.7)">crIVS2-654T</text>
<text x="282.05" y="455.7" font-size="8" fill="#333" stroke="#333" stroke-width="0.05" text-anchor="end" textLength="22" lengthAdjust="spacingAndGlyphs" transform="rotate(-45 282.05 455.7)">crAAVS1</text>
<text x="296.45" y="455.7" font-size="8" fill="#333" stroke="#333" stroke-width="0.05" text-anchor="end" textLength="32" lengthAdjust="spacingAndGlyphs" transform="rotate(-45 296.45 455.7)">crIVS2-654T</text>
<line x1="177.5" y1="483.5" x2="197.5" y2="483.5" stroke="#2a2a2a" stroke-width="0.9"/>
<g transform="translate(180 491.8)"><text x="0" y="0" font-size="6.6" fill="#505050">&#946;</text><text x="3.96" y="-3.83" font-size="3.3" fill="#505050">+</text><text x="6.27" y="0" font-size="6.6" fill="#505050">&#946;</text><text x="10.3" y="-3.63" font-size="3.3" fill="#505050">0</text><text x="11.75" y="1.98" font-size="3.04" fill="#505050">#4</text></g>
<line x1="206.2" y1="483.5" x2="226.2" y2="483.5" stroke="#2a2a2a" stroke-width="0.9"/>
<g transform="translate(208.7 491.8)"><text x="0" y="0" font-size="6.6" fill="#505050">&#946;</text><text x="3.96" y="-3.83" font-size="3.3" fill="#505050">+</text><text x="6.27" y="0" font-size="6.6" fill="#505050">&#946;</text><text x="10.3" y="-3.63" font-size="3.3" fill="#505050">0</text><text x="11.75" y="1.98" font-size="3.04" fill="#505050">#5</text></g>
<line x1="234.8" y1="483.5" x2="254.8" y2="483.5" stroke="#2a2a2a" stroke-width="0.9"/>
<g transform="translate(237.3 491.8)"><text x="0" y="0" font-size="6.6" fill="#505050">&#946;</text><text x="3.96" y="-3.83" font-size="3.3" fill="#505050">+</text><text x="6.27" y="0" font-size="6.6" fill="#505050">&#946;</text><text x="10.3" y="-3.63" font-size="3.3" fill="#505050">E</text><text x="11.75" y="1.98" font-size="3.04" fill="#505050">#1</text></g>
<line x1="263.7" y1="483.5" x2="283.7" y2="483.5" stroke="#2a2a2a" stroke-width="0.9"/>
<g transform="translate(266.2 491.8)"><text x="0" y="0" font-size="6.6" fill="#505050">&#946;</text><text x="3.96" y="-3.83" font-size="3.3" fill="#505050">+</text><text x="6.27" y="0" font-size="6.6" fill="#505050">&#946;</text><text x="10.3" y="-3.63" font-size="3.3" fill="#505050">E</text><text x="11.75" y="1.98" font-size="3.04" fill="#505050">#2</text></g>
<text x="304.5" y="346.7" font-size="11.5" fill="#222">G</text>
<line x1="339.2" y1="355.6" x2="348" y2="355.6" stroke="#333" stroke-width="0.7"/>
<path d="M343.6,354.1 L342.02,356.73 L345.17,356.73 Z" stroke="none" stroke-width="1" fill="#4d5668"/>
<text x="351.2" y="357.6" font-size="5.6" fill="#3a3a3a" font-style="italic" textLength="17.9" lengthAdjust="spacingAndGlyphs">crAAVS1</text>
<line x1="339.2" y1="366.2" x2="348" y2="366.2" stroke="#333" stroke-width="0.7"/>
<circle cx="343.6" cy="366.2" r="1.6" fill="#ab1f36"/>
<text x="351.2" y="368.2" font-size="5.6" fill="#3a3a3a" font-style="italic" textLength="25.4" lengthAdjust="spacingAndGlyphs">crIVS2-654T</text>
<line x1="333.5" y1="369.5" x2="333.5" y2="447" stroke="#1a1a1a" stroke-width="1"/>
<line x1="330.4" y1="446.5" x2="408.5" y2="446.5" stroke="#1a1a1a" stroke-width="1"/>
<line x1="329.8" y1="446.5" x2="333.5" y2="446.5" stroke="#222" stroke-width="0.8"/>
<text x="328" y="448.9" font-size="7" fill="#333" stroke="#333" stroke-width="0.1" text-anchor="end" textLength="3.2" lengthAdjust="spacingAndGlyphs">0</text>
<line x1="329.8" y1="431.55" x2="333.5" y2="431.55" stroke="#222" stroke-width="0.8"/>
<text x="328" y="433.95" font-size="7" fill="#333" stroke="#333" stroke-width="0.1" text-anchor="end" textLength="6.4" lengthAdjust="spacingAndGlyphs">20</text>
<line x1="329.8" y1="416.6" x2="333.5" y2="416.6" stroke="#222" stroke-width="0.8"/>
<text x="328" y="419" font-size="7" fill="#333" stroke="#333" stroke-width="0.1" text-anchor="end" textLength="6.4" lengthAdjust="spacingAndGlyphs">40</text>
<line x1="329.8" y1="401.65" x2="333.5" y2="401.65" stroke="#222" stroke-width="0.8"/>
<text x="328" y="404.05" font-size="7" fill="#333" stroke="#333" stroke-width="0.1" text-anchor="end" textLength="6.4" lengthAdjust="spacingAndGlyphs">60</text>
<line x1="329.8" y1="386.7" x2="333.5" y2="386.7" stroke="#222" stroke-width="0.8"/>
<text x="328" y="389.1" font-size="7" fill="#333" stroke="#333" stroke-width="0.1" text-anchor="end" textLength="6.4" lengthAdjust="spacingAndGlyphs">80</text>
<line x1="329.8" y1="371.75" x2="333.5" y2="371.75" stroke="#222" stroke-width="0.8"/>
<text x="328" y="374.15" font-size="7" fill="#333" stroke="#333" stroke-width="0.1" text-anchor="end" textLength="9.6" lengthAdjust="spacingAndGlyphs">100</text>
<text x="314.9" y="406.5" font-size="8.2" fill="#333" stroke="#333" stroke-width="0.1" text-anchor="middle" textLength="51" lengthAdjust="spacingAndGlyphs" transform="rotate(-90 314.9 406.5)">Enucleation (%)</text>
<line x1="340.8" y1="446.4" x2="340.8" y2="449.6" stroke="#222" stroke-width="0.8"/>
<line x1="356" y1="446.4" x2="356" y2="449.6" stroke="#222" stroke-width="0.8"/>
<line x1="371" y1="446.4" x2="371" y2="449.6" stroke="#222" stroke-width="0.8"/>
<line x1="385.8" y1="446.4" x2="385.8" y2="449.6" stroke="#222" stroke-width="0.8"/>
<line x1="400.4" y1="446.4" x2="400.4" y2="449.6" stroke="#222" stroke-width="0.8"/>
<line x1="338.3" y1="426.2" x2="343.7" y2="409.4" stroke="#111" stroke-width="0.8"/>
<line x1="338.3" y1="426.2" x2="343.7" y2="411" stroke="#111" stroke-width="0.8"/>
<line x1="338.3" y1="426.6" x2="343.7" y2="412.8" stroke="#111" stroke-width="0.8"/>
<path d="M338.3,424.3 L336.31,427.62 L340.3,427.62 Z" stroke="none" stroke-width="1" fill="#4d5668"/>
<path d="M338.3,424.3 L336.31,427.62 L340.3,427.62 Z" stroke="none" stroke-width="1" fill="#4d5668"/>
<path d="M338.3,424.7 L336.31,428.03 L340.3,428.03 Z" stroke="none" stroke-width="1" fill="#4d5668"/>
<circle cx="343.7" cy="409.4" r="1.75" fill="#ab1f36"/>
<circle cx="343.7" cy="411" r="1.75" fill="#ab1f36"/>
<circle cx="343.7" cy="412.8" r="1.75" fill="#ab1f36"/>
<line x1="353.1" y1="431" x2="358.5" y2="415.5" stroke="#111" stroke-width="0.8"/>
<line x1="353.1" y1="431" x2="358.5" y2="417.2" stroke="#111" stroke-width="0.8"/>
<line x1="353.1" y1="431.4" x2="358.5" y2="419.1" stroke="#111" stroke-width="0.8"/>
<path d="M353.1,429.1 L351.11,432.43 L355.1,432.43 Z" stroke="none" stroke-width="1" fill="#4d5668"/>
<path d="M353.1,429.1 L351.11,432.43 L355.1,432.43 Z" stroke="none" stroke-width="1" fill="#4d5668"/>
<path d="M353.1,429.5 L351.11,432.82 L355.1,432.82 Z" stroke="none" stroke-width="1" fill="#4d5668"/>
<circle cx="358.5" cy="415.5" r="1.75" fill="#ab1f36"/>
<circle cx="358.5" cy="417.2" r="1.75" fill="#ab1f36"/>
<circle cx="358.5" cy="419.1" r="1.75" fill="#ab1f36"/>
<line x1="368.4" y1="422.9" x2="373.3" y2="416.4" stroke="#111" stroke-width="0.8"/>
<line x1="368.4" y1="423.6" x2="373.3" y2="418" stroke="#111" stroke-width="0.8"/>
<line x1="368.4" y1="424.2" x2="373.3" y2="419.5" stroke="#111" stroke-width="0.8"/>
<path d="M368.4,421 L366.4,424.32 L370.39,424.32 Z" stroke="none" stroke-width="1" fill="#4d5668"/>
<path d="M368.4,421.7 L366.4,425.03 L370.39,425.03 Z" stroke="none" stroke-width="1" fill="#4d5668"/>
<path d="M368.4,422.3 L366.4,425.62 L370.39,425.62 Z" stroke="none" stroke-width="1" fill="#4d5668"/>
<circle cx="373.3" cy="416.4" r="1.75" fill="#ab1f36"/>
<circle cx="373.3" cy="418" r="1.75" fill="#ab1f36"/>
<circle cx="373.3" cy="419.5" r="1.75" fill="#ab1f36"/>
<line x1="382.9" y1="410.2" x2="388.1" y2="407.6" stroke="#111" stroke-width="0.8"/>
<line x1="382.9" y1="411" x2="388.1" y2="409.4" stroke="#111" stroke-width="0.8"/>
<line x1="382.9" y1="412.3" x2="388.1" y2="410.8" stroke="#111" stroke-width="0.8"/>
<path d="M382.9,408.3 L380.9,411.62 L384.89,411.62 Z" stroke="none" stroke-width="1" fill="#4d5668"/>
<path d="M382.9,409.1 L380.9,412.43 L384.89,412.43 Z" stroke="none" stroke-width="1" fill="#4d5668"/>
<path d="M382.9,410.4 L380.9,413.73 L384.89,413.73 Z" stroke="none" stroke-width="1" fill="#4d5668"/>
<circle cx="388.1" cy="407.6" r="1.75" fill="#ab1f36"/>
<circle cx="388.1" cy="409.4" r="1.75" fill="#ab1f36"/>
<circle cx="388.1" cy="410.8" r="1.75" fill="#ab1f36"/>
<line x1="397.8" y1="402.7" x2="403.4" y2="402.7" stroke="#111" stroke-width="0.8"/>
<line x1="397.8" y1="405.3" x2="403.4" y2="405.1" stroke="#111" stroke-width="0.8"/>
<line x1="397.8" y1="411.5" x2="403.4" y2="411.5" stroke="#111" stroke-width="0.8"/>
<path d="M397.8,400.8 L395.81,404.12 L399.8,404.12 Z" stroke="none" stroke-width="1" fill="#4d5668"/>
<path d="M397.8,403.4 L395.81,406.73 L399.8,406.73 Z" stroke="none" stroke-width="1" fill="#4d5668"/>
<path d="M397.8,409.6 L395.81,412.93 L399.8,412.93 Z" stroke="none" stroke-width="1" fill="#4d5668"/>
<circle cx="403.4" cy="402.7" r="1.75" fill="#ab1f36"/>
<circle cx="403.4" cy="405.1" r="1.75" fill="#ab1f36"/>
<circle cx="403.4" cy="411.5" r="1.75" fill="#ab1f36"/>
<g transform="translate(344.4 452) rotate(-45) translate(-17.15 0)"><text x="0" y="0" font-size="7" fill="#222">&#946;</text><text x="4.2" y="-4.06" font-size="3.5" fill="#222">+</text><text x="6.65" y="0" font-size="7" fill="#222">&#946;</text><text x="10.92" y="-3.85" font-size="3.5" fill="#222">0</text><text x="12.46" y="2.1" font-size="3.22" fill="#222">#4</text></g>
<g transform="translate(359.6 452) rotate(-45) translate(-17.15 0)"><text x="0" y="0" font-size="7" fill="#222">&#946;</text><text x="4.2" y="-4.06" font-size="3.5" fill="#222">+</text><text x="6.65" y="0" font-size="7" fill="#222">&#946;</text><text x="10.92" y="-3.85" font-size="3.5" fill="#222">0</text><text x="12.46" y="2.1" font-size="3.22" fill="#222">#5</text></g>
<g transform="translate(374.6 452) rotate(-45) translate(-17.15 0)"><text x="0" y="0" font-size="7" fill="#222">&#946;</text><text x="4.2" y="-4.06" font-size="3.5" fill="#222">+</text><text x="6.65" y="0" font-size="7" fill="#222">&#946;</text><text x="10.92" y="-3.85" font-size="3.5" fill="#222">E</text><text x="12.46" y="2.1" font-size="3.22" fill="#222">#1</text></g>
<g transform="translate(389.4 452) rotate(-45) translate(-17.15 0)"><text x="0" y="0" font-size="7" fill="#222">&#946;</text><text x="4.2" y="-4.06" font-size="3.5" fill="#222">+</text><text x="6.65" y="0" font-size="7" fill="#222">&#946;</text><text x="10.92" y="-3.85" font-size="3.5" fill="#222">E</text><text x="12.46" y="2.1" font-size="3.22" fill="#222">#2</text></g>
<g transform="translate(404 452) rotate(-45) translate(-17.15 0)"><text x="0" y="0" font-size="7" fill="#222">&#946;</text><text x="4.2" y="-4.06" font-size="3.5" fill="#222">+</text><text x="6.65" y="0" font-size="7" fill="#222">&#946;</text><text x="10.92" y="-3.85" font-size="3.5" fill="#222">+</text></g>
<text x="326.7" y="476.9" font-size="8" fill="#333" textLength="89.1" lengthAdjust="spacingAndGlyphs">Donor &#946;-globin genotype</text>
<text x="410.6" y="346.5" font-size="11.5" fill="#222">H</text>
<line x1="443.3" y1="355.8" x2="452.1" y2="355.8" stroke="#333" stroke-width="0.7"/>
<path d="M447.7,354.3 L446.12,356.93 L449.27,356.93 Z" stroke="none" stroke-width="1" fill="#4d5668"/>
<text x="455.3" y="357.8" font-size="5.6" fill="#3a3a3a" font-style="italic" textLength="17.9" lengthAdjust="spacingAndGlyphs">crAAVS1</text>
<line x1="443.3" y1="366.1" x2="452.1" y2="366.1" stroke="#333" stroke-width="0.7"/>
<circle cx="447.7" cy="366.1" r="1.6" fill="#ab1f36"/>
<text x="455.3" y="368.1" font-size="5.6" fill="#3a3a3a" font-style="italic" textLength="25.4" lengthAdjust="spacingAndGlyphs">crIVS2-654T</text>
<line x1="437.5" y1="369.5" x2="437.5" y2="447" stroke="#1a1a1a" stroke-width="1"/>
<line x1="434.4" y1="446.5" x2="512.3" y2="446.5" stroke="#1a1a1a" stroke-width="1"/>
<line x1="433.8" y1="446.3" x2="437.5" y2="446.3" stroke="#222" stroke-width="0.8"/>
<text x="431.9" y="448.7" font-size="7" fill="#333" stroke="#333" stroke-width="0.1" text-anchor="end" textLength="7.5" lengthAdjust="spacingAndGlyphs">0.6</text>
<line x1="433.8" y1="427.7" x2="437.5" y2="427.7" stroke="#222" stroke-width="0.8"/>
<text x="431.9" y="430.1" font-size="7" fill="#333" stroke="#333" stroke-width="0.1" text-anchor="end" textLength="7.5" lengthAdjust="spacingAndGlyphs">0.7</text>
<line x1="433.8" y1="409.1" x2="437.5" y2="409.1" stroke="#222" stroke-width="0.8"/>
<text x="431.9" y="411.5" font-size="7" fill="#333" stroke="#333" stroke-width="0.1" text-anchor="end" textLength="7.5" lengthAdjust="spacingAndGlyphs">0.8</text>
<line x1="433.8" y1="390.5" x2="437.5" y2="390.5" stroke="#222" stroke-width="0.8"/>
<text x="431.9" y="392.9" font-size="7" fill="#333" stroke="#333" stroke-width="0.1" text-anchor="end" textLength="7.5" lengthAdjust="spacingAndGlyphs">0.9</text>
<line x1="433.8" y1="371.9" x2="437.5" y2="371.9" stroke="#222" stroke-width="0.8"/>
<text x="431.9" y="374.3" font-size="7" fill="#333" stroke="#333" stroke-width="0.1" text-anchor="end" textLength="7.5" lengthAdjust="spacingAndGlyphs">1.0</text>
<text x="417.8" y="411.1" font-size="8.2" fill="#333" stroke="#333" stroke-width="0.1" text-anchor="middle" textLength="60.2" lengthAdjust="spacingAndGlyphs" transform="rotate(-90 417.8 411.1)">Cell size (relative)</text>
<line x1="444" y1="446.3" x2="444" y2="449.6" stroke="#222" stroke-width="0.8"/>
<line x1="459.4" y1="446.3" x2="459.4" y2="449.6" stroke="#222" stroke-width="0.8"/>
<line x1="474.4" y1="446.3" x2="474.4" y2="449.6" stroke="#222" stroke-width="0.8"/>
<line x1="489.6" y1="446.3" x2="489.6" y2="449.6" stroke="#222" stroke-width="0.8"/>
<line x1="504.6" y1="446.3" x2="504.6" y2="449.6" stroke="#222" stroke-width="0.8"/>
<line x1="441.2" y1="412.82" x2="447" y2="375.62" stroke="#111" stroke-width="0.75"/>
<line x1="441.2" y1="427.7" x2="447" y2="381.2" stroke="#111" stroke-width="0.75"/>
<line x1="441.2" y1="412.82" x2="447" y2="388.64" stroke="#111" stroke-width="0.75"/>
<path d="M441.2,410.92 L439.2,414.25 L443.19,414.25 Z" stroke="none" stroke-width="1" fill="#4d5668"/>
<path d="M441.2,425.8 L439.2,429.12 L443.19,429.12 Z" stroke="none" stroke-width="1" fill="#4d5668"/>
<path d="M441.2,410.92 L439.2,414.25 L443.19,414.25 Z" stroke="none" stroke-width="1" fill="#4d5668"/>
<circle cx="447" cy="375.62" r="1.75" fill="#ab1f36"/>
<circle cx="447" cy="381.2" r="1.75" fill="#ab1f36"/>
<circle cx="447" cy="388.64" r="1.75" fill="#ab1f36"/>
<line x1="456.5" y1="423.98" x2="462.2" y2="381.2" stroke="#111" stroke-width="0.75"/>
<line x1="456.5" y1="425.84" x2="462.2" y2="383.06" stroke="#111" stroke-width="0.75"/>
<line x1="456.5" y1="423.98" x2="462.2" y2="388.64" stroke="#111" stroke-width="0.75"/>
<path d="M456.5,422.08 L454.5,425.4 L458.5,425.4 Z" stroke="none" stroke-width="1" fill="#4d5668"/>
<path d="M456.5,423.94 L454.5,427.26 L458.5,427.26 Z" stroke="none" stroke-width="1" fill="#4d5668"/>
<path d="M456.5,422.08 L454.5,425.4 L458.5,425.4 Z" stroke="none" stroke-width="1" fill="#4d5668"/>
<circle cx="462.2" cy="381.2" r="1.75" fill="#ab1f36"/>
<circle cx="462.2" cy="383.06" r="1.75" fill="#ab1f36"/>
<circle cx="462.2" cy="388.64" r="1.75" fill="#ab1f36"/>
<line x1="471.6" y1="420.26" x2="477.6" y2="385.85" stroke="#111" stroke-width="0.75"/>
<line x1="471.6" y1="422.12" x2="477.6" y2="386.78" stroke="#111" stroke-width="0.75"/>
<line x1="471.6" y1="423.98" x2="477.6" y2="388.64" stroke="#111" stroke-width="0.75"/>
<path d="M471.6,418.36 L469.61,421.69 L473.6,421.69 Z" stroke="none" stroke-width="1" fill="#4d5668"/>
<path d="M471.6,420.22 L469.61,423.55 L473.6,423.55 Z" stroke="none" stroke-width="1" fill="#4d5668"/>
<path d="M471.6,422.08 L469.61,425.4 L473.6,425.4 Z" stroke="none" stroke-width="1" fill="#4d5668"/>
<circle cx="477.6" cy="385.85" r="1.75" fill="#ab1f36"/>
<circle cx="477.6" cy="386.78" r="1.75" fill="#ab1f36"/>
<circle cx="477.6" cy="388.64" r="1.75" fill="#ab1f36"/>
<line x1="487.3" y1="413.75" x2="492.7" y2="394.22" stroke="#111" stroke-width="0.75"/>
<line x1="487.3" y1="418.4" x2="492.7" y2="399.8" stroke="#111" stroke-width="0.75"/>
<line x1="487.3" y1="427.7" x2="492.7" y2="405.38" stroke="#111" stroke-width="0.75"/>
<path d="M487.3,411.85 L485.31,415.18 L489.3,415.18 Z" stroke="none" stroke-width="1" fill="#4d5668"/>
<path d="M487.3,416.5 L485.31,419.82 L489.3,419.82 Z" stroke="none" stroke-width="1" fill="#4d5668"/>
<path d="M487.3,425.8 L485.31,429.12 L489.3,429.12 Z" stroke="none" stroke-width="1" fill="#4d5668"/>
<circle cx="492.7" cy="394.22" r="1.75" fill="#ab1f36"/>
<circle cx="492.7" cy="399.8" r="1.75" fill="#ab1f36"/>
<circle cx="492.7" cy="405.38" r="1.75" fill="#ab1f36"/>
<line x1="501.9" y1="373.76" x2="508" y2="371.9" stroke="#111" stroke-width="0.75"/>
<line x1="501.9" y1="373.76" x2="508" y2="373.76" stroke="#111" stroke-width="0.75"/>
<line x1="501.9" y1="374.69" x2="508" y2="373.76" stroke="#111" stroke-width="0.75"/>
<path d="M501.9,371.86 L499.9,375.19 L503.89,375.19 Z" stroke="none" stroke-width="1" fill="#4d5668"/>
<path d="M501.9,371.86 L499.9,375.19 L503.89,375.19 Z" stroke="none" stroke-width="1" fill="#4d5668"/>
<path d="M501.9,372.79 L499.9,376.12 L503.89,376.12 Z" stroke="none" stroke-width="1" fill="#4d5668"/>
<circle cx="508" cy="371.9" r="1.75" fill="#ab1f36"/>
<circle cx="508" cy="373.76" r="1.75" fill="#ab1f36"/>
<circle cx="508" cy="373.76" r="1.75" fill="#ab1f36"/>
<g transform="translate(447.6 452) rotate(-45) translate(-17.15 0)"><text x="0" y="0" font-size="7" fill="#222">&#946;</text><text x="4.2" y="-4.06" font-size="3.5" fill="#222">+</text><text x="6.65" y="0" font-size="7" fill="#222">&#946;</text><text x="10.92" y="-3.85" font-size="3.5" fill="#222">0</text><text x="12.46" y="2.1" font-size="3.22" fill="#222">#4</text></g>
<g transform="translate(463 452) rotate(-45) translate(-17.15 0)"><text x="0" y="0" font-size="7" fill="#222">&#946;</text><text x="4.2" y="-4.06" font-size="3.5" fill="#222">+</text><text x="6.65" y="0" font-size="7" fill="#222">&#946;</text><text x="10.92" y="-3.85" font-size="3.5" fill="#222">0</text><text x="12.46" y="2.1" font-size="3.22" fill="#222">#5</text></g>
<g transform="translate(478 452) rotate(-45) translate(-17.15 0)"><text x="0" y="0" font-size="7" fill="#222">&#946;</text><text x="4.2" y="-4.06" font-size="3.5" fill="#222">+</text><text x="6.65" y="0" font-size="7" fill="#222">&#946;</text><text x="10.92" y="-3.85" font-size="3.5" fill="#222">E</text><text x="12.46" y="2.1" font-size="3.22" fill="#222">#1</text></g>
<g transform="translate(493.2 452) rotate(-45) translate(-17.15 0)"><text x="0" y="0" font-size="7" fill="#222">&#946;</text><text x="4.2" y="-4.06" font-size="3.5" fill="#222">+</text><text x="6.65" y="0" font-size="7" fill="#222">&#946;</text><text x="10.92" y="-3.85" font-size="3.5" fill="#222">E</text><text x="12.46" y="2.1" font-size="3.22" fill="#222">#2</text></g>
<g transform="translate(508.2 452) rotate(-45) translate(-17.15 0)"><text x="0" y="0" font-size="7" fill="#222">&#946;</text><text x="4.2" y="-4.06" font-size="3.5" fill="#222">+</text><text x="6.65" y="0" font-size="7" fill="#222">&#946;</text><text x="10.92" y="-3.85" font-size="3.5" fill="#222">+</text></g>
<text x="429.6" y="476.9" font-size="8" fill="#333" textLength="89.1" lengthAdjust="spacingAndGlyphs">Donor &#946;-globin genotype</text>
<rect x="518.8" y="0" width="1.2" height="503" fill="#fff"/>
<rect x="0.5" y="0.5" width="518" height="502" fill="none" stroke="#2a2a2a" stroke-width="1.1"/>
</svg>
</body></html>
